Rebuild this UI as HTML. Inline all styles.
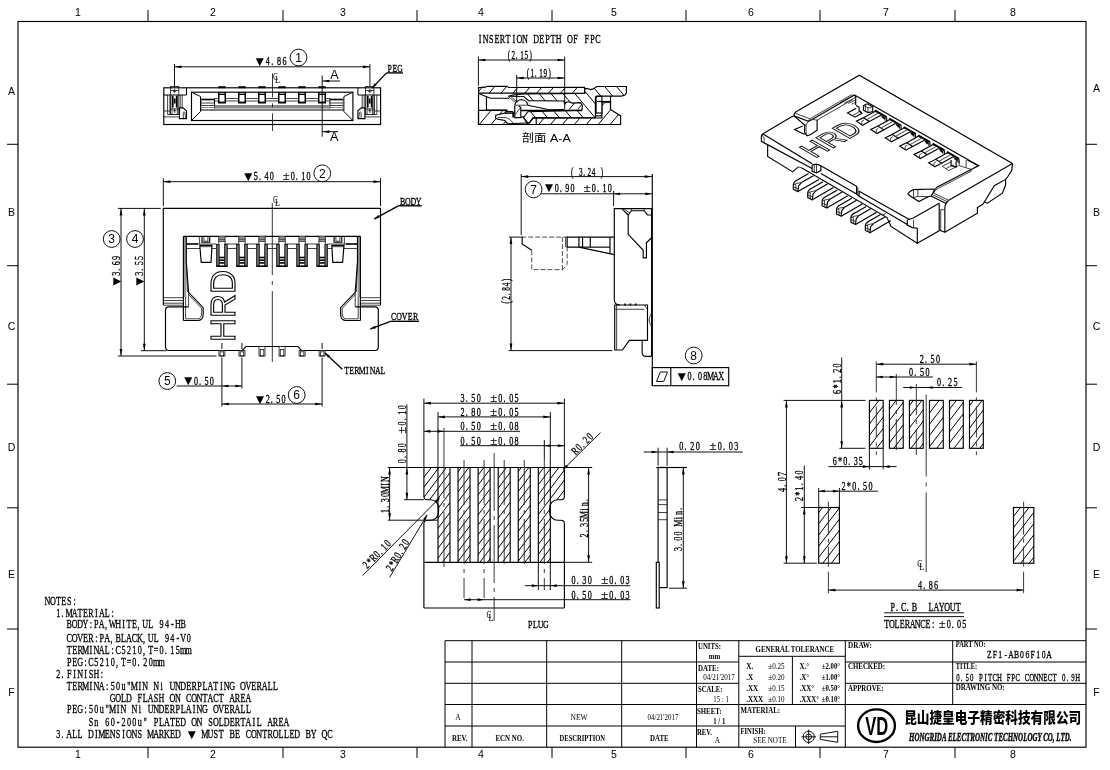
<!DOCTYPE html>
<html><head><meta charset="utf-8"><title>ZF1-AB06F10A</title>
<style>
html,body{margin:0;padding:0;background:#fff}
svg{display:block;filter:grayscale(1)}
line,polyline,polygon,path,rect,circle,ellipse{fill:none;stroke:#000;stroke-width:1}
.d{stroke:#111;stroke-width:1}
.o{stroke:#000;stroke-width:1.15}
.n{stroke:#111;stroke-width:.8}
.l{stroke:#000;stroke-width:1.35}
.k{stroke:#000;stroke-width:1.6}
.g{stroke:#777;stroke-width:.8}
.c{stroke:#222;stroke-width:.9;stroke-dasharray:60 5 4 5}
.h{stroke:#222;stroke-width:.8;stroke-dasharray:5 2}
.ar{fill:#000;stroke:none}
.w{fill:#fff}
.fk{fill:#000;stroke:none}
.fg{fill:#888;stroke:none}
text{fill:#000;stroke:none;white-space:pre}
.m{font-family:"Liberation Serif","Noto Serif CJK SC",serif;text-anchor:middle;stroke:#000;stroke-width:.32px}
.t{font-family:"Liberation Serif","Noto Serif CJK SC",serif}
.b{font-family:"Liberation Serif","Noto Serif CJK SC",serif;font-weight:bold}
.tri{font-family:"DejaVu Sans",sans-serif}
.s{font-family:"Liberation Sans","Noto Sans CJK SC",sans-serif}
</style></head><body>
<svg width="1110" height="770" viewBox="0 0 1110 770">
<g>
<rect x="0" y="0" width="1110" height="770" style="fill:#fff;stroke:none"/>
<g id="frame">
<rect x="18" y="21.5" width="1068" height="725.7" class="o"/>
<line x1="148" y1="10" x2="148" y2="21.5"/>
<line x1="148" y1="747.2" x2="148" y2="758"/>
<line x1="283" y1="10" x2="283" y2="21.5"/>
<line x1="283" y1="747.2" x2="283" y2="758"/>
<line x1="417" y1="10" x2="417" y2="21.5"/>
<line x1="417" y1="747.2" x2="417" y2="758"/>
<line x1="552" y1="10" x2="552" y2="21.5"/>
<line x1="552" y1="747.2" x2="552" y2="758"/>
<line x1="686" y1="10" x2="686" y2="21.5"/>
<line x1="686" y1="747.2" x2="686" y2="758"/>
<line x1="820" y1="10" x2="820" y2="21.5"/>
<line x1="820" y1="747.2" x2="820" y2="758"/>
<line x1="955" y1="10" x2="955" y2="21.5"/>
<line x1="955" y1="747.2" x2="955" y2="758"/>
<line x1="7" y1="144.3" x2="18" y2="144.3"/>
<line x1="1086" y1="144.3" x2="1097" y2="144.3"/>
<line x1="7" y1="265.7" x2="18" y2="265.7"/>
<line x1="1086" y1="265.7" x2="1097" y2="265.7"/>
<line x1="7" y1="384.2" x2="18" y2="384.2"/>
<line x1="1086" y1="384.2" x2="1097" y2="384.2"/>
<line x1="7" y1="507.8" x2="18" y2="507.8"/>
<line x1="1086" y1="507.8" x2="1097" y2="507.8"/>
<line x1="7" y1="629" x2="18" y2="629"/>
<line x1="1086" y1="629" x2="1097" y2="629"/>
<text class="s" x="78" y="15.5" font-size="10.5" text-anchor="middle">1</text>
<text class="s" x="78" y="757.5" font-size="10.5" text-anchor="middle">1</text>
<text class="s" x="213" y="15.5" font-size="10.5" text-anchor="middle">2</text>
<text class="s" x="213" y="757.5" font-size="10.5" text-anchor="middle">2</text>
<text class="s" x="343" y="15.5" font-size="10.5" text-anchor="middle">3</text>
<text class="s" x="343" y="757.5" font-size="10.5" text-anchor="middle">3</text>
<text class="s" x="481" y="15.5" font-size="10.5" text-anchor="middle">4</text>
<text class="s" x="481" y="757.5" font-size="10.5" text-anchor="middle">4</text>
<text class="s" x="614" y="15.5" font-size="10.5" text-anchor="middle">5</text>
<text class="s" x="614" y="757.5" font-size="10.5" text-anchor="middle">5</text>
<text class="s" x="751" y="15.5" font-size="10.5" text-anchor="middle">6</text>
<text class="s" x="751" y="757.5" font-size="10.5" text-anchor="middle">6</text>
<text class="s" x="886" y="15.5" font-size="10.5" text-anchor="middle">7</text>
<text class="s" x="886" y="757.5" font-size="10.5" text-anchor="middle">7</text>
<text class="s" x="1013" y="15.5" font-size="10.5" text-anchor="middle">8</text>
<text class="s" x="1013" y="757.5" font-size="10.5" text-anchor="middle">8</text>
<text class="s" x="11.5" y="94.7" font-size="10.5" text-anchor="middle">A</text>
<text class="s" x="1096.5" y="91.7" font-size="10.5" text-anchor="middle">A</text>
<text class="s" x="11.5" y="215.7" font-size="10.5" text-anchor="middle">B</text>
<text class="s" x="1096.5" y="215.7" font-size="10.5" text-anchor="middle">B</text>
<text class="s" x="11.5" y="329.7" font-size="10.5" text-anchor="middle">C</text>
<text class="s" x="1096.5" y="329.7" font-size="10.5" text-anchor="middle">C</text>
<text class="s" x="11.5" y="450.7" font-size="10.5" text-anchor="middle">D</text>
<text class="s" x="1096.5" y="450.7" font-size="10.5" text-anchor="middle">D</text>
<text class="s" x="11.5" y="577.7" font-size="10.5" text-anchor="middle">E</text>
<text class="s" x="1096.5" y="577.7" font-size="10.5" text-anchor="middle">E</text>
<text class="s" x="11.5" y="695.7" font-size="10.5" text-anchor="middle">F</text>
<text class="s" x="1096.5" y="695.7" font-size="10.5" text-anchor="middle">F</text>
</g>
<g id="titleblock">
<line x1="445" y1="640.7" x2="1086" y2="640.7"/>
<line x1="445" y1="640.7" x2="445" y2="747.2"/>
<line x1="472" y1="640.7" x2="472" y2="747.2"/>
<line x1="546.7" y1="640.7" x2="546.7" y2="747.2"/>
<line x1="621.7" y1="640.7" x2="621.7" y2="747.2"/>
<line x1="696.5" y1="640.7" x2="696.5" y2="747.2"/>
<line x1="738.8" y1="640.7" x2="738.8" y2="747.2"/>
<line x1="845.3" y1="640.7" x2="845.3" y2="747.2"/>
<line x1="952.7" y1="640.7" x2="952.7" y2="704.5"/>
<line x1="445" y1="662" x2="738.8" y2="662"/>
<line x1="445" y1="683.3" x2="738.8" y2="683.3"/>
<line x1="445" y1="704.5" x2="738.8" y2="704.5"/>
<line x1="445" y1="726" x2="738.8" y2="726"/>
<line x1="738.8" y1="656.3" x2="845.3" y2="656.3"/>
<line x1="792.4" y1="656.3" x2="792.4" y2="704.5"/>
<line x1="738.8" y1="704.5" x2="1086" y2="704.5"/>
<line x1="738.8" y1="726" x2="845.3" y2="726"/>
<line x1="795.5" y1="726" x2="795.5" y2="747.2"/>
<line x1="845.3" y1="662" x2="1086" y2="662"/>
<line x1="845.3" y1="683.3" x2="1086" y2="683.3"/>
<text class="t" x="458" y="719.5" font-size="7.5" text-anchor="middle">A</text>
<text class="t" x="579" y="719.5" font-size="7.5" textLength="17" lengthAdjust="spacingAndGlyphs" text-anchor="middle">NEW</text>
<text class="t" x="663" y="719.5" font-size="7.5" textLength="31" lengthAdjust="spacingAndGlyphs" text-anchor="middle">04/21'2017</text>
<text class="b" x="459.7" y="740.5" font-size="7.5" textLength="15.5" lengthAdjust="spacingAndGlyphs" text-anchor="middle">REV.</text>
<text class="b" x="509.7" y="740.5" font-size="7.5" textLength="28.5" lengthAdjust="spacingAndGlyphs" text-anchor="middle">ECN NO.</text>
<text class="b" x="582.3" y="740.5" font-size="7.5" textLength="45.5" lengthAdjust="spacingAndGlyphs" text-anchor="middle">DESCRIPTION</text>
<text class="b" x="659.3" y="740.5" font-size="7.5" textLength="18.5" lengthAdjust="spacingAndGlyphs" text-anchor="middle">DATE</text>
<text class="b" x="698" y="649" font-size="7.5" textLength="23" lengthAdjust="spacingAndGlyphs">UNITS:</text>
<text class="b" x="708.7" y="658.8" font-size="7.5" textLength="11.5" lengthAdjust="spacingAndGlyphs">mm</text>
<text class="b" x="698" y="670.5" font-size="7.5" textLength="21" lengthAdjust="spacingAndGlyphs">DATE:</text>
<text class="t" x="703.3" y="679.8" font-size="7.5" textLength="31.5" lengthAdjust="spacingAndGlyphs">04/21'2017</text>
<text class="b" x="698" y="691.8" font-size="7.5" textLength="24.5" lengthAdjust="spacingAndGlyphs">SCALE:</text>
<text class="t" x="713.3" y="701.5" font-size="7.5" textLength="15.5" lengthAdjust="spacingAndGlyphs">15 : 1</text>
<text class="b" x="697" y="713.8" font-size="7.5" textLength="24.5" lengthAdjust="spacingAndGlyphs">SHEET:</text>
<text class="b" x="713.3" y="723.5" font-size="7.5" textLength="12" lengthAdjust="spacingAndGlyphs">1 / 1</text>
<text class="b" x="697" y="734.8" font-size="7.5" textLength="15" lengthAdjust="spacingAndGlyphs">REV.</text>
<text class="t" x="714.7" y="742.8" font-size="7.5">A</text>
<text class="b" x="794.8" y="652" font-size="7.5" textLength="78.5" lengthAdjust="spacingAndGlyphs" text-anchor="middle">GENERAL TOLERANCE</text>
<text class="b" x="746.2" y="668.5" font-size="7.5" textLength="7" lengthAdjust="spacingAndGlyphs">X.</text>
<text class="t" x="768.3" y="668.5" font-size="7.5" textLength="16.2" lengthAdjust="spacingAndGlyphs">±0.25</text>
<text class="b" x="799.5" y="668.5" font-size="7.5" textLength="9.5" lengthAdjust="spacingAndGlyphs">X.°</text>
<text class="b" x="821.7" y="668.5" font-size="7.5" textLength="18.3" lengthAdjust="spacingAndGlyphs">±2.00°</text>
<text class="b" x="746.2" y="679.7" font-size="7.5" textLength="7" lengthAdjust="spacingAndGlyphs">.X</text>
<text class="t" x="768.3" y="679.7" font-size="7.5" textLength="16.2" lengthAdjust="spacingAndGlyphs">±0.20</text>
<text class="b" x="799.5" y="679.7" font-size="7.5" textLength="9.5" lengthAdjust="spacingAndGlyphs">.X°</text>
<text class="b" x="821.7" y="679.7" font-size="7.5" textLength="18.3" lengthAdjust="spacingAndGlyphs">±1.00°</text>
<text class="b" x="746.2" y="690.7" font-size="7.5" textLength="12" lengthAdjust="spacingAndGlyphs">.XX</text>
<text class="t" x="768.3" y="690.7" font-size="7.5" textLength="16.2" lengthAdjust="spacingAndGlyphs">±0.15</text>
<text class="b" x="799.5" y="690.7" font-size="7.5" textLength="14.5" lengthAdjust="spacingAndGlyphs">.XX°</text>
<text class="b" x="821.7" y="690.7" font-size="7.5" textLength="18.3" lengthAdjust="spacingAndGlyphs">±0.50°</text>
<text class="b" x="746.2" y="701.5" font-size="7.5" textLength="17" lengthAdjust="spacingAndGlyphs">.XXX</text>
<text class="t" x="768.3" y="701.5" font-size="7.5" textLength="16.2" lengthAdjust="spacingAndGlyphs">±0.10</text>
<text class="b" x="799.5" y="701.5" font-size="7.5" textLength="19.5" lengthAdjust="spacingAndGlyphs">.XXX°</text>
<text class="b" x="821.7" y="701.5" font-size="7.5" textLength="18.3" lengthAdjust="spacingAndGlyphs">±0.10°</text>
<text class="b" x="740.5" y="712.7" font-size="7.5" textLength="39.5" lengthAdjust="spacingAndGlyphs">MATERIAL:</text>
<text class="b" x="740.5" y="733.8" font-size="7.5" textLength="25" lengthAdjust="spacingAndGlyphs">FINISH:</text>
<text class="t" x="753.3" y="742.8" font-size="7.5" textLength="33.4" lengthAdjust="spacingAndGlyphs">SEE NOTE</text>
<circle cx="808.7" cy="736.8" r="5.6" class="d"/>
<circle cx="808.7" cy="736.8" r="2.9" class="d"/>
<line x1="801.5" y1="736.8" x2="816" y2="736.8" class="d"/>
<line x1="808.7" y1="729.5" x2="808.7" y2="744" class="d"/>
<polygon points="820.3,734.2 837.7,731.3 837.7,742.3 820.3,739.4" class="d"/>
<line x1="820.3" y1="736.8" x2="837.7" y2="736.8" class="d"/>
<text class="b" x="848" y="647.8" font-size="7.5" textLength="24" lengthAdjust="spacingAndGlyphs">DRAW:</text>
<text class="b" x="848" y="669.3" font-size="7.5" textLength="37" lengthAdjust="spacingAndGlyphs">CHECKED:</text>
<text class="b" x="848" y="690.7" font-size="7.5" textLength="35.5" lengthAdjust="spacingAndGlyphs">APPROVE:</text>
<text class="b" x="955.7" y="646.8" font-size="7.5" textLength="30" lengthAdjust="spacingAndGlyphs">PART NO:</text>
<g><text class="m" transform="translate(986.7,657.8) scale(0.7,1)" font-size="11" x="3.87 11.61 19.36 27.1 34.84 42.59 50.33 58.07 65.81 73.56 81.3 89.04" y="0.6">ZF1-AB06F10A</text></g>
<text class="b" x="955.7" y="669" font-size="7.5" textLength="21.5" lengthAdjust="spacingAndGlyphs">TITLE:</text>
<g><text class="m" transform="translate(955.7,680) scale(0.62,1)" font-size="11" x="3.71 9.5 18.55 25.97 33.39 40.81 48.23 55.65 63.06 70.48 77.9 85.32 92.74 100.16 107.58 115 122.42 129.84 137.26 144.68 152.1 159.52 166.94 174.35 180.14 189.19 196.61" y="0.6">0.50 PITCH FPC CONNECT 0.9H</text></g>
<text class="b" x="955.7" y="690" font-size="7.5" textLength="49" lengthAdjust="spacingAndGlyphs">DRAWING NO:</text>
<ellipse cx="876.5" cy="725.7" rx="18.4" ry="16.3" style="stroke-width:2.4"/>
<text class="s" x="865.3" y="735.3" font-size="26" textLength="23" lengthAdjust="spacingAndGlyphs" style="font-weight:bold">VD</text>
<text class="s" x="904.2" y="722.8" font-size="14.6" textLength="177" lengthAdjust="spacingAndGlyphs" style="font-weight:900">昆山捷皇电子精密科技有限公司</text>
<text class="b" x="909" y="740.8" font-size="13" textLength="162.5" lengthAdjust="spacingAndGlyphs" style="font-style:italic;stroke:#000;stroke-width:.45px">HONGRIDA ELECTRONIC TECHNOLOGY CO, LTD.</text>
</g>
<g id="notes">
<g><text class="m" transform="translate(44.8,605) scale(0.7,1)" font-size="11.6" x="3.88 11.64 19.39 27.15 34.91 42.66" y="0">NOTES:</text></g>
<g><text class="m" transform="translate(55.66,617) scale(0.7,1)" font-size="11.6" x="3.88 9.93 19.39 27.15 34.91 42.66 50.42 58.18 65.94 73.69 81.45" y="0">1.MATERIAL:</text></g>
<g><text class="m" transform="translate(66.52,628.3) scale(0.7,1)" font-size="11.6" x="3.88 11.64 19.39 27.15 34.91 42.66 50.42 56.47 65.94 73.69 81.45 89.21 96.96 103.01 112.48 120.24 127.99 135.75 143.51 151.26 159.02 166.78" y="0">BODY:PA,WHITE,UL 94-HB</text></g>
<g><text class="m" transform="translate(66.52,642.3) scale(0.7,1)" font-size="11.6" x="3.88 11.64 19.39 27.15 34.91 42.66 50.42 58.18 64.23 73.69 81.45 89.21 96.96 104.72 110.77 120.24 127.99 135.75 143.51 151.26 159.02 166.78 174.54" y="0">COVER:PA,BLACK,UL 94-V0</text></g>
<g><text class="m" transform="translate(66.52,654.3) scale(0.7,1)" font-size="11.6" x="3.88 11.64 19.39 27.15 34.91 42.66 50.42 58.18 65.94 73.69 81.45 89.21 96.96 104.72 110.77 120.24 127.99 135.75 141.8 151.26 159.02 166.78 174.54" y="0">TERMINAL:C5210,T=0.15mm</text></g>
<g><text class="m" transform="translate(66.52,666) scale(0.7,1)" font-size="11.6" x="3.88 11.64 19.39 27.15 34.91 42.66 50.42 58.18 65.94 71.99 81.45 89.21 96.96 103.01 112.48 120.24 127.99 135.75" y="0">PEG:C5210,T=0.20mm</text></g>
<g><text class="m" transform="translate(55.66,678.3) scale(0.7,1)" font-size="11.6" x="3.88 9.93 19.39 27.15 34.91 42.66 50.42 58.18 65.94" y="0">2.FINISH:</text></g>
<g><text class="m" transform="translate(66.52,690.3) scale(0.7,1)" font-size="11.6" x="3.88 11.64 19.39 27.15 34.91 42.66 50.42 58.18 65.94 73.69 81.45 89.21 96.96 104.72 112.48 120.24 127.99 135.75 143.51 151.26 159.02 166.78 174.54 182.29 190.05 197.81 205.56 213.32 221.08 228.84 236.59 244.35 252.11 259.86 267.62 275.38 283.14 290.89 298.65" y="0">TERMINA:50u"MIN Ni UNDERPLATING OVERALL</text></g>
<g><text class="m" transform="translate(109.96,702) scale(0.7,1)" font-size="11.6" x="3.88 11.64 19.39 27.15 34.91 42.66 50.42 58.18 65.94 73.69 81.45 89.21 96.96 104.72 112.48 120.24 127.99 135.75 143.51 151.26 159.02 166.78 174.54 182.29 190.05 197.81" y="0">GOLD FLASH ON CONTACT AREA</text></g>
<g><text class="m" transform="translate(66.52,713.3) scale(0.7,1)" font-size="11.6" x="3.88 11.64 19.39 27.15 34.91 42.66 50.42 58.18 65.94 73.69 81.45 89.21 96.96 104.72 112.48 120.24 127.99 135.75 143.51 151.26 159.02 166.78 174.54 182.29 190.05 197.81 205.56 213.32 221.08 228.84 236.59 244.35 252.11 259.86" y="0">PEG:50u"MIN Ni UNDERPLAING OVERALL</text></g>
<g><text class="m" transform="translate(88.24,726) scale(0.7,1)" font-size="11.6" x="3.88 11.64 19.39 27.15 34.91 42.66 50.42 58.18 65.94 73.69 81.45 89.21 96.96 104.72 112.48 120.24 127.99 135.75 143.51 151.26 159.02 166.78 174.54 182.29 190.05 197.81 205.56 213.32 221.08 228.84 236.59 244.35 252.11 259.86 267.62 275.38 283.14" y="0">Sn 60-200u" PLATED ON SOLDERTAIL AREA</text></g>
<g><text class="m" transform="translate(55.66,738) scale(0.7,1)" font-size="11.6" x="3.88 9.93 19.39 27.15 34.91 42.66 50.42 58.18 65.94 73.69 81.45 89.21 96.96 104.72 112.48 120.24 127.99 135.75 143.51 151.26 159.02 166.78 174.54 182.29" y="0">3.ALL DIMENSIONS MARKED </text><text class="tri" transform="translate(55.66,738)" font-size="10.44" x="136.05" y="-0.3" text-anchor="middle">▼</text> <text class="m" transform="translate(55.66,738) scale(0.7,1)" font-size="11.6" x="213.32 221.08 228.84 236.59 244.35 252.11 259.86 267.62 275.38 283.14 290.89 298.65 306.41 314.16 321.92 329.68 337.44 345.19 352.95 360.71 368.46 376.22 383.98 391.74" y="0">MUST BE CONTROLLED BY QC</text></g>
</g>
<g id="front">
<rect x="163.8" y="87.8" width="216.8" height="36.7" class="o"/>
<rect x="191.5" y="92.2" width="161.4" height="28.3" class="o"/>
<line x1="186.5" y1="87.8" x2="186.5" y2="95"/>
<line x1="163.8" y1="95" x2="186.5" y2="95"/>
<rect x="170.5" y="86.5" width="8.3" height="28" class="n"/>
<line x1="167.6" y1="95" x2="167.6" y2="114.5" class="n"/>
<line x1="169.9" y1="95" x2="169.9" y2="114.5" class="n"/>
<line x1="172" y1="95" x2="172" y2="114.5" class="n"/>
<line x1="177.3" y1="95" x2="177.3" y2="114.5" class="n"/>
<line x1="180.2" y1="95" x2="180.2" y2="111" class="n"/>
<line x1="182.2" y1="95" x2="182.2" y2="111" class="n"/>
<line x1="163.8" y1="111" x2="170.5" y2="111" class="n"/>
<line x1="167.6" y1="114.5" x2="179.5" y2="114.5" class="n"/>
<line x1="163.8" y1="116.9" x2="179.5" y2="116.9" class="n"/>
<line x1="170.5" y1="90.5" x2="178.8" y2="90.5" class="n"/>
<line x1="170.5" y1="109" x2="178.8" y2="109" class="n"/>
<line x1="174.6" y1="89" x2="174.6" y2="93" class="n"/>
<line x1="173" y1="91.3" x2="176.2" y2="91.3" class="n"/>
<line x1="174.6" y1="108" x2="174.6" y2="113" class="n"/>
<line x1="173" y1="110.7" x2="176.2" y2="110.7" class="n"/>
<line x1="174.7" y1="98.5" x2="174.7" y2="103.5" class="k"/>
<line x1="172.8" y1="96" x2="172.8" y2="107.5" class="k"/>
<line x1="176.6" y1="96" x2="176.6" y2="107.5" class="k"/>
<polygon points="179.5,107.9 183,107.9 186.5,110.8 186.5,118.6 179.5,118.6" class="o" style="fill:#fff"/>
<path d="M183.3,118 V112.5 Q184.8,109.5 185.6,118" class="n"/>
<line x1="191.5" y1="92.2" x2="200.5" y2="96.5"/>
<line x1="191.5" y1="120.5" x2="200.5" y2="111.5"/>
<line x1="200.5" y1="96.5" x2="200.5" y2="111.5"/>
<rect x="200.5" y="98.7" width="14" height="1.6" class="fk"/>
<line x1="200.5" y1="103" x2="214.5" y2="103" class="n"/>
<line x1="200.5" y1="105.5" x2="214.5" y2="105.5" class="n"/>
<line x1="200.5" y1="107.5" x2="214.5" y2="107.5" class="g"/>
<line x1="201.5" y1="98" x2="201.5" y2="110" class="g"/>
<line x1="214.5" y1="98.5" x2="214.5" y2="108.5"/>
<line x1="357.9" y1="87.8" x2="357.9" y2="95"/>
<line x1="380.6" y1="95" x2="357.9" y2="95"/>
<rect x="365.6" y="86.5" width="8.3" height="28" class="n"/>
<line x1="376.8" y1="95" x2="376.8" y2="114.5" class="n"/>
<line x1="374.5" y1="95" x2="374.5" y2="114.5" class="n"/>
<line x1="372.4" y1="95" x2="372.4" y2="114.5" class="n"/>
<line x1="367.1" y1="95" x2="367.1" y2="114.5" class="n"/>
<line x1="364.2" y1="95" x2="364.2" y2="111" class="n"/>
<line x1="362.2" y1="95" x2="362.2" y2="111" class="n"/>
<line x1="380.6" y1="111" x2="373.9" y2="111" class="n"/>
<line x1="376.8" y1="114.5" x2="364.9" y2="114.5" class="n"/>
<line x1="380.6" y1="116.9" x2="364.9" y2="116.9" class="n"/>
<line x1="373.9" y1="90.5" x2="365.6" y2="90.5" class="n"/>
<line x1="373.9" y1="109" x2="365.6" y2="109" class="n"/>
<line x1="369.8" y1="89" x2="369.8" y2="93" class="n"/>
<line x1="371.4" y1="91.3" x2="368.2" y2="91.3" class="n"/>
<line x1="369.8" y1="108" x2="369.8" y2="113" class="n"/>
<line x1="371.4" y1="110.7" x2="368.2" y2="110.7" class="n"/>
<line x1="369.7" y1="98.5" x2="369.7" y2="103.5" class="k"/>
<line x1="371.6" y1="96" x2="371.6" y2="107.5" class="k"/>
<line x1="367.8" y1="96" x2="367.8" y2="107.5" class="k"/>
<polygon points="364.9,107.9 361.4,107.9 357.9,110.8 357.9,118.6 364.9,118.6" class="o" style="fill:#fff"/>
<path d="M361.1,118 V112.5 Q359.6,109.5 358.8,118" class="n"/>
<line x1="352.9" y1="92.2" x2="343.9" y2="96.5"/>
<line x1="352.9" y1="120.5" x2="343.9" y2="111.5"/>
<line x1="343.9" y1="96.5" x2="343.9" y2="111.5"/>
<rect x="329.9" y="98.7" width="14" height="1.6" class="fk"/>
<line x1="343.9" y1="103" x2="329.9" y2="103" class="n"/>
<line x1="343.9" y1="105.5" x2="329.9" y2="105.5" class="n"/>
<line x1="343.9" y1="107.5" x2="329.9" y2="107.5" class="g"/>
<line x1="342.9" y1="98" x2="342.9" y2="110" class="g"/>
<line x1="329.9" y1="98.5" x2="329.9" y2="108.5"/>
<line x1="214.5" y1="98.5" x2="329.9" y2="98.5" class="n"/>
<line x1="214.5" y1="101" x2="329.9" y2="101" class="n"/>
<rect x="214.5" y="105" width="115.4" height="3.5" class="fg"/>
<line x1="200.5" y1="110" x2="343.9" y2="110"/>
<rect x="218" y="92.2" width="8" height="11.3" style="fill:#000;stroke:none"/>
<rect x="219.5" y="95" width="5" height="6.6" style="fill:#fff;stroke:none"/>
<line x1="219.5" y1="93.4" x2="224.5" y2="93.4" style="stroke:#fff;stroke-width:.7"/>
<rect x="218.4" y="86.2" width="7.2" height="2" style="fill:#000;stroke:none"/>
<rect x="238" y="92.2" width="8" height="11.3" style="fill:#000;stroke:none"/>
<rect x="239.5" y="95" width="5" height="6.6" style="fill:#fff;stroke:none"/>
<line x1="239.5" y1="93.4" x2="244.5" y2="93.4" style="stroke:#fff;stroke-width:.7"/>
<rect x="238.4" y="86.2" width="7.2" height="2" style="fill:#000;stroke:none"/>
<rect x="258" y="92.2" width="8" height="11.3" style="fill:#000;stroke:none"/>
<rect x="259.5" y="95" width="5" height="6.6" style="fill:#fff;stroke:none"/>
<line x1="259.5" y1="93.4" x2="264.5" y2="93.4" style="stroke:#fff;stroke-width:.7"/>
<rect x="258.4" y="86.2" width="7.2" height="2" style="fill:#000;stroke:none"/>
<rect x="278" y="92.2" width="8" height="11.3" style="fill:#000;stroke:none"/>
<rect x="279.5" y="95" width="5" height="6.6" style="fill:#fff;stroke:none"/>
<line x1="279.5" y1="93.4" x2="284.5" y2="93.4" style="stroke:#fff;stroke-width:.7"/>
<rect x="278.4" y="86.2" width="7.2" height="2" style="fill:#000;stroke:none"/>
<rect x="298" y="92.2" width="8" height="11.3" style="fill:#000;stroke:none"/>
<rect x="299.5" y="95" width="5" height="6.6" style="fill:#fff;stroke:none"/>
<line x1="299.5" y1="93.4" x2="304.5" y2="93.4" style="stroke:#fff;stroke-width:.7"/>
<rect x="298.4" y="86.2" width="7.2" height="2" style="fill:#000;stroke:none"/>
<rect x="318" y="92.2" width="8" height="11.3" style="fill:#000;stroke:none"/>
<rect x="319.5" y="95" width="5" height="6.6" style="fill:#fff;stroke:none"/>
<line x1="319.5" y1="93.4" x2="324.5" y2="93.4" style="stroke:#fff;stroke-width:.7"/>
<rect x="318.4" y="86.2" width="7.2" height="2" style="fill:#000;stroke:none"/>
<line x1="272.5" y1="73.3" x2="272.5" y2="131" class="c" style="stroke-dasharray:24 6 4 6"/>
<line x1="322.2" y1="75.5" x2="322.2" y2="136.7" class="d"/>
<line x1="322.2" y1="81" x2="340" y2="81" class="d"/>
<polygon class="ar" points="322.8,81 329.3,79.65 329.3,82.35"/>
<line x1="322.2" y1="131.7" x2="338" y2="131.7" class="d"/>
<polygon class="ar" points="322.8,131.7 329.3,130.35 329.3,133.05"/>
<text class="s" x="334.4" y="79.2" font-size="12.6" text-anchor="middle" fill="#333">A</text>
<text class="s" x="334.2" y="140.6" font-size="12.6" text-anchor="middle" fill="#333">A</text>
<line x1="174.5" y1="64" x2="174.5" y2="86.5" class="d"/>
<line x1="369.9" y1="64" x2="369.9" y2="86.5" class="d"/>
<line x1="174.5" y1="66.8" x2="369.9" y2="66.8" class="d"/>
<polygon class="ar" points="174.5,66.8 181.5,65.45 181.5,68.15"/>
<polygon class="ar" points="369.9,66.8 362.9,68.15 362.9,65.45"/>
<g><text class="tri" transform="translate(253.8,64.5)" font-size="10.44" x="5.9" y="0.3" text-anchor="middle">▼</text><text class="m" transform="translate(253.8,64.5) scale(0.7,1)" font-size="11.6" x="20 26.24 36 44" y="0.6">4.86</text></g>
<circle cx="298.5" cy="57.5" r="8.4" class="d"/>
<text class="s" x="298.5" y="61.7" font-size="12" text-anchor="middle">1</text>
<text class="t" x="273" y="80.4" font-size="11" textLength="5" lengthAdjust="spacingAndGlyphs">C</text>
<text class="t" x="274.9" y="83.4" font-size="11" textLength="5" lengthAdjust="spacingAndGlyphs">L</text>
<g><text class="m" transform="translate(387,71) scale(0.7,1)" font-size="11" x="3.71 11.14 18.57" y="0.6">PEG</text></g>
<line x1="386.5" y1="72.9" x2="403" y2="72.9" class="l"/>
<line x1="386.5" y1="72.9" x2="372.5" y2="87.6" class="l"/>
<polygon class="ar" points="371.6,88.5 374.8,83.25 376.74,85.12"/>
</g>
<g id="section">
<clipPath id="h1"><polygon points="478.52,87.62 485.37,87.19 487.53,86.32 506.99,86.32 508.79,87.48 584.6,87.4 584.6,93.2 478.52,93.17"/></clipPath>
<g clip-path="url(#h1)" class="n">
<line x1="436.92" y1="127" x2="473" y2="84"/>
<line x1="448.82" y1="127" x2="484.9" y2="84"/>
<line x1="460.72" y1="127" x2="496.8" y2="84"/>
<line x1="472.62" y1="127" x2="508.7" y2="84"/>
<line x1="484.52" y1="127" x2="520.6" y2="84"/>
<line x1="496.42" y1="127" x2="532.5" y2="84"/>
<line x1="508.32" y1="127" x2="544.4" y2="84"/>
<line x1="520.22" y1="127" x2="556.3" y2="84"/>
<line x1="532.12" y1="127" x2="568.2" y2="84"/>
<line x1="544.02" y1="127" x2="580.1" y2="84"/>
<line x1="555.92" y1="127" x2="592" y2="84"/>
<line x1="567.82" y1="127" x2="603.9" y2="84"/>
<line x1="579.72" y1="127" x2="615.8" y2="84"/>
<line x1="591.62" y1="127" x2="627.7" y2="84"/>
<line x1="603.52" y1="127" x2="639.6" y2="84"/>
<line x1="615.42" y1="127" x2="651.5" y2="84"/>
<line x1="627.32" y1="127" x2="663.4" y2="84"/>
<line x1="639.22" y1="127" x2="675.3" y2="84"/>
<line x1="651.12" y1="127" x2="687.2" y2="84"/>
<line x1="663.02" y1="127" x2="699.1" y2="84"/>
<line x1="674.92" y1="127" x2="711" y2="84"/>
</g>
<polygon points="478.52,87.62 485.37,87.19 487.53,86.32 506.99,86.32 508.79,87.48 584.6,87.4 584.6,93.2 478.52,93.17" class="o"/>
<polyline points="478.52,93.17 478.52,124.52" class="o"/>
<polyline points="478.52,93.53 490.41,98.22 509.15,98.22" class="o"/>
<polyline points="486.45,96.77 486.45,110.11 506.99,110.11" class="o"/>
<clipPath id="h2"><polygon points="478.5,110.4 507,110.4 504.83,112.99 495.82,115.15 495.46,118.04 497.62,119.12 504.83,120.56 507.71,123.8 526.89,123.03 529.32,123.03 532.97,117.84 601.9,118 601.9,102.2 610.5,102.2 610.5,109.4 620.6,115.9 620.6,124.5 478.5,124.5"/></clipPath>
<g clip-path="url(#h2)" class="n">
<line x1="441.42" y1="127" x2="477.5" y2="84"/>
<line x1="453.32" y1="127" x2="489.4" y2="84"/>
<line x1="465.22" y1="127" x2="501.3" y2="84"/>
<line x1="477.12" y1="127" x2="513.2" y2="84"/>
<line x1="489.02" y1="127" x2="525.1" y2="84"/>
<line x1="500.92" y1="127" x2="537" y2="84"/>
<line x1="512.82" y1="127" x2="548.9" y2="84"/>
<line x1="524.72" y1="127" x2="560.8" y2="84"/>
<line x1="536.62" y1="127" x2="572.7" y2="84"/>
<line x1="548.52" y1="127" x2="584.6" y2="84"/>
<line x1="560.42" y1="127" x2="596.5" y2="84"/>
<line x1="572.32" y1="127" x2="608.4" y2="84"/>
<line x1="584.22" y1="127" x2="620.3" y2="84"/>
<line x1="596.12" y1="127" x2="632.2" y2="84"/>
<line x1="608.02" y1="127" x2="644.1" y2="84"/>
<line x1="619.92" y1="127" x2="656" y2="84"/>
<line x1="631.82" y1="127" x2="667.9" y2="84"/>
<line x1="643.72" y1="127" x2="679.8" y2="84"/>
<line x1="655.62" y1="127" x2="691.7" y2="84"/>
<line x1="667.52" y1="127" x2="703.6" y2="84"/>
</g>
<polygon points="478.5,110.4 507,110.4 504.83,112.99 495.82,115.15 495.46,118.04 497.62,119.12 504.83,120.56 507.71,123.8 526.89,123.03 529.32,123.03 532.97,117.84 601.9,118 601.9,102.2 610.5,102.2 610.5,109.4 620.6,115.9 620.6,124.5 478.5,124.5" class="o"/>
<line x1="536.22" y1="117.8" x2="536.22" y2="124.5" class="o"/>
<clipPath id="h3"><polygon points="508.2,96.3 514,94.9 524,93.9 584.6,93.5 584.59,88.63 587.48,88.49 590.36,89.57 593.24,88.92 596.85,86.47 626.4,86.47 626.4,92.81 624.95,94.97 621.35,96.05 596.85,96.05 595.41,97.28 595.41,115.87 595.4,117.7 532.97,117.84 529.32,123.03 526.89,123.03 523.49,117.84 524.14,116.78 527.87,111.76 582,110.1 582.43,105.43 580.41,102.59 572.3,103.08 569.06,101.78 564.19,102.76 564.19,100.97 528.51,100.57 523.65,96.51"/></clipPath>
<g clip-path="url(#h3)" class="n">
<line x1="435.92" y1="84" x2="472" y2="127"/>
<line x1="447.82" y1="84" x2="483.9" y2="127"/>
<line x1="459.72" y1="84" x2="495.8" y2="127"/>
<line x1="471.62" y1="84" x2="507.7" y2="127"/>
<line x1="483.52" y1="84" x2="519.6" y2="127"/>
<line x1="495.42" y1="84" x2="531.5" y2="127"/>
<line x1="507.32" y1="84" x2="543.4" y2="127"/>
<line x1="519.22" y1="84" x2="555.3" y2="127"/>
<line x1="531.12" y1="84" x2="567.2" y2="127"/>
<line x1="543.02" y1="84" x2="579.1" y2="127"/>
<line x1="554.92" y1="84" x2="591" y2="127"/>
<line x1="566.82" y1="84" x2="602.9" y2="127"/>
<line x1="578.72" y1="84" x2="614.8" y2="127"/>
<line x1="590.62" y1="84" x2="626.7" y2="127"/>
<line x1="602.52" y1="84" x2="638.6" y2="127"/>
<line x1="614.42" y1="84" x2="650.5" y2="127"/>
<line x1="626.32" y1="84" x2="662.4" y2="127"/>
<line x1="638.22" y1="84" x2="674.3" y2="127"/>
<line x1="650.12" y1="84" x2="686.2" y2="127"/>
<line x1="662.02" y1="84" x2="698.1" y2="127"/>
<line x1="673.92" y1="84" x2="710" y2="127"/>
</g>
<polygon points="508.2,96.3 514,94.9 524,93.9 584.6,93.5 584.59,88.63 587.48,88.49 590.36,89.57 593.24,88.92 596.85,86.47 626.4,86.47 626.4,92.81 624.95,94.97 621.35,96.05 596.85,96.05 595.41,97.28 595.41,115.87 595.4,117.7 532.97,117.84 529.32,123.03 526.89,123.03 523.49,117.84 524.14,116.78 527.87,111.76 582,110.1 582.43,105.43 580.41,102.59 572.3,103.08 569.06,101.78 564.19,102.76 564.19,100.97 528.51,100.57 523.65,96.51" class="o"/>
<polygon points="508.65,96.76 510.68,96.43 515.95,100.97 514.08,101.46" class="n" style="fill:#fff"/>
<path d="M514.73,105.19 Q515.38,100.97 521.22,99.51 Q527.05,100.16 527.87,105.19" class="o" style="fill:#fff"/>
<polyline points="514.73,105.19 527.87,105.19" class="n"/>
<circle cx="516.84" cy="101.78" r="0.7" style="fill:#000;stroke:none"/>
<polyline points="514.73,105.43 514.73,117.6 520.81,117.6 520.81,107.46 518.78,106" class="o"/>
<line x1="514.89" y1="114.76" x2="520.41" y2="107.87" class="n"/>
<polyline points="520.81,117.19 524.14,116.78" class="o"/>
<line x1="513.11" y1="111.51" x2="513.11" y2="117.6" class="k"/>
<polyline points="505,111.51 512.7,111.51" class="o"/>
<polyline points="505,113.3 511.89,113.3" class="n"/>
<polyline points="527.87,105.19 547.16,109.24 564.19,109.49" class="o"/>
<line x1="521.22" y1="110.46" x2="582" y2="110.46" class="k"/>
<clipPath id="h4"><polygon points="564.19,102.76 569.06,101.78 572.3,103.08 580.41,102.59 582.43,105.43 581.22,108.68 573.11,108.92 564.19,109.49"/></clipPath>
<g clip-path="url(#h4)" class="n">
<line x1="435.42" y1="127" x2="471.5" y2="84"/>
<line x1="443.92" y1="127" x2="480" y2="84"/>
<line x1="452.42" y1="127" x2="488.5" y2="84"/>
<line x1="460.92" y1="127" x2="497" y2="84"/>
<line x1="469.42" y1="127" x2="505.5" y2="84"/>
<line x1="477.92" y1="127" x2="514" y2="84"/>
<line x1="486.42" y1="127" x2="522.5" y2="84"/>
<line x1="494.92" y1="127" x2="531" y2="84"/>
<line x1="503.42" y1="127" x2="539.5" y2="84"/>
<line x1="511.92" y1="127" x2="548" y2="84"/>
<line x1="520.42" y1="127" x2="556.5" y2="84"/>
<line x1="528.92" y1="127" x2="565" y2="84"/>
<line x1="537.42" y1="127" x2="573.5" y2="84"/>
<line x1="545.92" y1="127" x2="582" y2="84"/>
<line x1="554.42" y1="127" x2="590.5" y2="84"/>
<line x1="562.92" y1="127" x2="599" y2="84"/>
<line x1="571.42" y1="127" x2="607.5" y2="84"/>
<line x1="579.92" y1="127" x2="616" y2="84"/>
<line x1="588.42" y1="127" x2="624.5" y2="84"/>
<line x1="596.92" y1="127" x2="633" y2="84"/>
<line x1="605.42" y1="127" x2="641.5" y2="84"/>
<line x1="613.92" y1="127" x2="650" y2="84"/>
<line x1="622.42" y1="127" x2="658.5" y2="84"/>
<line x1="630.92" y1="127" x2="667" y2="84"/>
<line x1="639.42" y1="127" x2="675.5" y2="84"/>
<line x1="647.92" y1="127" x2="684" y2="84"/>
<line x1="656.42" y1="127" x2="692.5" y2="84"/>
<line x1="664.92" y1="127" x2="701" y2="84"/>
<line x1="673.42" y1="127" x2="709.5" y2="84"/>
</g>
<line x1="564.7" y1="93.5" x2="564.7" y2="109.49" class="d"/>
<polyline points="497.62,117.32 506.27,117.68 509.87,119.48 513.48,123.44" class="n"/>
<polyline points="504.83,112.99 513.48,112.99" class="o"/>
<rect x="596.1" y="96.4" width="5.8" height="16.6" class="o" style="fill:#fff"/>
<polyline points="596.8,101.5 610.5,101.5" class="o"/>
<line x1="610.5" y1="96" x2="610.5" y2="109.4" class="o"/>
<polyline points="595.41,115.87 601.89,115.87" class="o"/>
<line x1="478.4" y1="56.5" x2="478.4" y2="85.5" class="d"/>
<line x1="564.7" y1="56.5" x2="564.7" y2="93" class="d"/>
<line x1="516.7" y1="75" x2="516.7" y2="101.38" class="d"/>
<line x1="478.4" y1="60" x2="564.7" y2="60" class="d"/>
<polygon class="ar" points="478.4,60 485.4,58.65 485.4,61.35"/>
<polygon class="ar" points="564.7,60 557.7,61.35 557.7,58.65"/>
<line x1="516.7" y1="78" x2="564.7" y2="78" class="d"/>
<polygon class="ar" points="516.7,78 523.7,76.65 523.7,79.35"/>
<polygon class="ar" points="564.7,78 557.7,79.35 557.7,76.65"/>
<g><text class="m" transform="translate(506.7,58.8) scale(0.62,1)" font-size="11.6" x="3.51 10.52 16 24.56 31.57 38.59" y="0.6">(2.15)</text></g>
<g><text class="m" transform="translate(525.8,76.7) scale(0.62,1)" font-size="11.6" x="3.51 10.52 16 24.56 31.57 38.59" y="0.6">(1.19)</text></g>
<g><text class="m" transform="translate(477.2,42.5) scale(0.7,1)" font-size="11.6" x="4.01 12.04 20.07 28.1 36.13 44.16 52.19 60.21 68.24 76.27 84.3 92.33 100.36 108.39 116.41 124.44 132.47 140.5 148.53 156.56 164.59 172.61" y="0.6">INSERTION DEPTH OF FPC</text></g>
<text class="s" x="521.7" y="141.5" font-size="11.3" textLength="49" lengthAdjust="spacingAndGlyphs" fill="#555">剖面 A-A</text>
</g>
<g id="topview">
<polyline points="163.3,305 163.3,208.4 380.5,208.4 380.5,305" class="o"/>
<line x1="163.3" y1="297.7" x2="184" y2="297.7" class="n"/>
<line x1="163.3" y1="300.5" x2="184" y2="300.5" class="n"/>
<line x1="163.3" y1="303.2" x2="184" y2="303.2" class="n"/>
<line x1="163.3" y1="305.2" x2="184" y2="305.2" class="n"/>
<path d="M188.6,306.8 H169 Q165.5,306.8 165.5,310.3 V347 Q165.5,350.5 169,350.5 H242.3 L245.9,346.5 H271.9" class="o"/>
<rect x="183.4" y="236.3" width="2.9" height="60.7" style="fill:#999;stroke:none"/>
<line x1="183.4" y1="236.3" x2="183.4" y2="320.5" class="o"/>
<polyline points="186.3,236.3 186.3,262 188.6,292.3 203.2,307.7 203.2,314" class="o"/>
<path d="M203.2,314 Q203.2,320.5 197.5,320.5 H183.4" class="o"/>
<polyline points="185.6,297 185.6,318.8 197.5,318.8" class="n"/>
<path d="M197.5,318.8 Q201.6,318.5 201.6,313.5 V308.3 L188.2,294" class="n"/>
<line x1="188.6" y1="292.3" x2="188.6" y2="306.8" class="n"/>
<polyline points="186.3,262 187.5,292" class="n"/>
<line x1="186.3" y1="244" x2="198" y2="244" class="k"/>
<line x1="186.3" y1="248.5" x2="216.5" y2="248.5" class="n"/>
<line x1="199.4" y1="236.3" x2="199.4" y2="244" class="n"/>
<line x1="198" y1="244" x2="216.5" y2="244" class="n"/>
<polyline points="202,236.3 202,242.2 209.7,242.2 209.7,236.3" class="o"/>
<polyline points="203.9,236.3 203.9,241.2 207.9,241.2 207.9,236.3" class="n"/>
<polygon points="199.8,245.3 212,245.3 211,262.4 201.2,262.4" class="o" style="fill:#fff"/>
<line x1="200" y1="246.7" x2="211.9" y2="246.7" class="n"/>
<line x1="380.5" y1="297.7" x2="359.8" y2="297.7" class="n"/>
<line x1="380.5" y1="300.5" x2="359.8" y2="300.5" class="n"/>
<line x1="380.5" y1="303.2" x2="359.8" y2="303.2" class="n"/>
<line x1="380.5" y1="305.2" x2="359.8" y2="305.2" class="n"/>
<path d="M355.2,306.8 H374.8 Q378.3,306.8 378.3,310.3 V347 Q378.3,350.5 374.8,350.5 H301.5 L297.9,346.5 H271.9" class="o"/>
<rect x="357.5" y="236.3" width="2.9" height="60.7" style="fill:#999;stroke:none"/>
<line x1="360.4" y1="236.3" x2="360.4" y2="320.5" class="o"/>
<polyline points="357.5,236.3 357.5,262 355.2,292.3 340.6,307.7 340.6,314" class="o"/>
<path d="M340.6,314 Q340.6,320.5 346.3,320.5 H360.4" class="o"/>
<polyline points="358.2,297 358.2,318.8 346.3,318.8" class="n"/>
<path d="M346.3,318.8 Q342.2,318.5 342.2,313.5 V308.3 L355.6,294" class="n"/>
<line x1="355.2" y1="292.3" x2="355.2" y2="306.8" class="n"/>
<polyline points="357.5,262 356.3,292" class="n"/>
<line x1="357.5" y1="244" x2="345.8" y2="244" class="k"/>
<line x1="357.5" y1="248.5" x2="327.3" y2="248.5" class="n"/>
<line x1="344.4" y1="236.3" x2="344.4" y2="244" class="n"/>
<line x1="345.8" y1="244" x2="327.3" y2="244" class="n"/>
<polyline points="341.8,236.3 341.8,242.2 334.1,242.2 334.1,236.3" class="o"/>
<polyline points="339.9,236.3 339.9,241.2 335.9,241.2 335.9,236.3" class="n"/>
<polygon points="344,245.3 331.8,245.3 332.8,262.4 342.6,262.4" class="o" style="fill:#fff"/>
<line x1="343.8" y1="246.7" x2="331.9" y2="246.7" class="n"/>
<line x1="183.4" y1="236.3" x2="360.4" y2="236.3" class="o"/>
<rect x="218.7" y="236.3" width="6.4" height="3.7" style="fill:#888;stroke:none"/>
<rect x="216.5" y="244.4" width="2.7" height="22.1" style="fill:#666;stroke:#000;stroke-width:.7"/>
<rect x="224.6" y="244.4" width="2.7" height="22.1" style="fill:#666;stroke:#000;stroke-width:.7"/>
<line x1="218.7" y1="236.3" x2="218.7" y2="244.4" class="n"/>
<line x1="225.1" y1="236.3" x2="225.1" y2="244.4" class="n"/>
<line x1="218.7" y1="240" x2="225.1" y2="240" class="n"/>
<line x1="218.7" y1="241.4" x2="225.1" y2="241.4" class="n"/>
<line x1="219.2" y1="257.5" x2="224.6" y2="257.5" class="k"/>
<line x1="219.2" y1="260.2" x2="224.6" y2="260.2" class="k"/>
<line x1="219.2" y1="262.9" x2="224.6" y2="262.9" class="k"/>
<line x1="216.5" y1="266.2" x2="227.3" y2="266.2" class="k"/>
<line x1="225.1" y1="244" x2="238.75" y2="244" class="n"/>
<line x1="227.3" y1="248.5" x2="236.55" y2="248.5" class="n"/>
<rect x="218.9" y="350.5" width="6" height="5.5" class="n" style="fill:#fff"/>
<rect x="220.1" y="351.8" width="3.6" height="4.2" class="n"/>
<rect x="238.75" y="236.3" width="6.4" height="3.7" style="fill:#888;stroke:none"/>
<rect x="236.55" y="244.4" width="2.7" height="22.1" style="fill:#666;stroke:#000;stroke-width:.7"/>
<rect x="244.65" y="244.4" width="2.7" height="22.1" style="fill:#666;stroke:#000;stroke-width:.7"/>
<line x1="238.75" y1="236.3" x2="238.75" y2="244.4" class="n"/>
<line x1="245.15" y1="236.3" x2="245.15" y2="244.4" class="n"/>
<line x1="238.75" y1="240" x2="245.15" y2="240" class="n"/>
<line x1="238.75" y1="241.4" x2="245.15" y2="241.4" class="n"/>
<line x1="239.25" y1="257.5" x2="244.65" y2="257.5" class="k"/>
<line x1="239.25" y1="260.2" x2="244.65" y2="260.2" class="k"/>
<line x1="239.25" y1="262.9" x2="244.65" y2="262.9" class="k"/>
<line x1="236.55" y1="266.2" x2="247.35" y2="266.2" class="k"/>
<line x1="245.15" y1="244" x2="258.8" y2="244" class="n"/>
<line x1="247.35" y1="248.5" x2="256.6" y2="248.5" class="n"/>
<rect x="238.95" y="350.5" width="6" height="5.5" class="n" style="fill:#fff"/>
<rect x="240.15" y="351.8" width="3.6" height="4.2" class="n"/>
<rect x="258.8" y="236.3" width="6.4" height="3.7" style="fill:#888;stroke:none"/>
<rect x="256.6" y="244.4" width="2.7" height="22.1" style="fill:#666;stroke:#000;stroke-width:.7"/>
<rect x="264.7" y="244.4" width="2.7" height="22.1" style="fill:#666;stroke:#000;stroke-width:.7"/>
<line x1="258.8" y1="236.3" x2="258.8" y2="244.4" class="n"/>
<line x1="265.2" y1="236.3" x2="265.2" y2="244.4" class="n"/>
<line x1="258.8" y1="240" x2="265.2" y2="240" class="n"/>
<line x1="258.8" y1="241.4" x2="265.2" y2="241.4" class="n"/>
<line x1="259.3" y1="257.5" x2="264.7" y2="257.5" class="k"/>
<line x1="259.3" y1="260.2" x2="264.7" y2="260.2" class="k"/>
<line x1="259.3" y1="262.9" x2="264.7" y2="262.9" class="k"/>
<line x1="256.6" y1="266.2" x2="267.4" y2="266.2" class="k"/>
<line x1="265.2" y1="244" x2="278.85" y2="244" class="n"/>
<line x1="267.4" y1="248.5" x2="276.65" y2="248.5" class="n"/>
<rect x="259" y="346.5" width="6" height="9.5" class="n" style="fill:#fff"/>
<rect x="260.2" y="349.5" width="3.6" height="6.5" class="n"/>
<rect x="278.85" y="236.3" width="6.4" height="3.7" style="fill:#888;stroke:none"/>
<rect x="276.65" y="244.4" width="2.7" height="22.1" style="fill:#666;stroke:#000;stroke-width:.7"/>
<rect x="284.75" y="244.4" width="2.7" height="22.1" style="fill:#666;stroke:#000;stroke-width:.7"/>
<line x1="278.85" y1="236.3" x2="278.85" y2="244.4" class="n"/>
<line x1="285.25" y1="236.3" x2="285.25" y2="244.4" class="n"/>
<line x1="278.85" y1="240" x2="285.25" y2="240" class="n"/>
<line x1="278.85" y1="241.4" x2="285.25" y2="241.4" class="n"/>
<line x1="279.35" y1="257.5" x2="284.75" y2="257.5" class="k"/>
<line x1="279.35" y1="260.2" x2="284.75" y2="260.2" class="k"/>
<line x1="279.35" y1="262.9" x2="284.75" y2="262.9" class="k"/>
<line x1="276.65" y1="266.2" x2="287.45" y2="266.2" class="k"/>
<line x1="285.25" y1="244" x2="298.9" y2="244" class="n"/>
<line x1="287.45" y1="248.5" x2="296.7" y2="248.5" class="n"/>
<rect x="279.05" y="346.5" width="6" height="9.5" class="n" style="fill:#fff"/>
<rect x="280.25" y="349.5" width="3.6" height="6.5" class="n"/>
<rect x="298.9" y="236.3" width="6.4" height="3.7" style="fill:#888;stroke:none"/>
<rect x="296.7" y="244.4" width="2.7" height="22.1" style="fill:#666;stroke:#000;stroke-width:.7"/>
<rect x="304.8" y="244.4" width="2.7" height="22.1" style="fill:#666;stroke:#000;stroke-width:.7"/>
<line x1="298.9" y1="236.3" x2="298.9" y2="244.4" class="n"/>
<line x1="305.3" y1="236.3" x2="305.3" y2="244.4" class="n"/>
<line x1="298.9" y1="240" x2="305.3" y2="240" class="n"/>
<line x1="298.9" y1="241.4" x2="305.3" y2="241.4" class="n"/>
<line x1="299.4" y1="257.5" x2="304.8" y2="257.5" class="k"/>
<line x1="299.4" y1="260.2" x2="304.8" y2="260.2" class="k"/>
<line x1="299.4" y1="262.9" x2="304.8" y2="262.9" class="k"/>
<line x1="296.7" y1="266.2" x2="307.5" y2="266.2" class="k"/>
<line x1="305.3" y1="244" x2="318.95" y2="244" class="n"/>
<line x1="307.5" y1="248.5" x2="316.75" y2="248.5" class="n"/>
<rect x="299.1" y="350.5" width="6" height="5.5" class="n" style="fill:#fff"/>
<rect x="300.3" y="351.8" width="3.6" height="4.2" class="n"/>
<rect x="318.95" y="236.3" width="6.4" height="3.7" style="fill:#888;stroke:none"/>
<rect x="316.75" y="244.4" width="2.7" height="22.1" style="fill:#666;stroke:#000;stroke-width:.7"/>
<rect x="324.85" y="244.4" width="2.7" height="22.1" style="fill:#666;stroke:#000;stroke-width:.7"/>
<line x1="318.95" y1="236.3" x2="318.95" y2="244.4" class="n"/>
<line x1="325.35" y1="236.3" x2="325.35" y2="244.4" class="n"/>
<line x1="318.95" y1="240" x2="325.35" y2="240" class="n"/>
<line x1="318.95" y1="241.4" x2="325.35" y2="241.4" class="n"/>
<line x1="319.45" y1="257.5" x2="324.85" y2="257.5" class="k"/>
<line x1="319.45" y1="260.2" x2="324.85" y2="260.2" class="k"/>
<line x1="319.45" y1="262.9" x2="324.85" y2="262.9" class="k"/>
<line x1="316.75" y1="266.2" x2="327.55" y2="266.2" class="k"/>
<rect x="319.15" y="350.5" width="6" height="5.5" class="n" style="fill:#fff"/>
<rect x="320.35" y="351.8" width="3.6" height="4.2" class="n"/>
<text class="s" transform="translate(234.5,342) rotate(-90)" font-size="35.8" textLength="72" lengthAdjust="spacingAndGlyphs" style="fill:#fff;stroke:#000;stroke-width:1.15">HRD</text>
<line x1="272.3" y1="203" x2="272.3" y2="362" class="c" style="stroke-dasharray:72 6 4 6"/>
<text class="t" x="273" y="202.8" font-size="11" textLength="5" lengthAdjust="spacingAndGlyphs">C</text>
<text class="t" x="274.9" y="205.8" font-size="11" textLength="5" lengthAdjust="spacingAndGlyphs">L</text>
<line x1="163.3" y1="178.3" x2="163.3" y2="206" class="d"/>
<line x1="380.5" y1="178.3" x2="380.5" y2="206" class="d"/>
<line x1="163.3" y1="181.7" x2="380.5" y2="181.7" class="d"/>
<polygon class="ar" points="163.3,181.7 170.3,180.35 170.3,183.05"/>
<polygon class="ar" points="380.5,181.7 373.5,183.05 373.5,180.35"/>
<g><text class="tri" transform="translate(242.7,179.3)" font-size="10.44" x="5.57" y="0.3" text-anchor="middle">▼</text><text class="m" transform="translate(242.7,179.3) scale(0.7,1)" font-size="11.6" x="18.82 24.69 33.88 41.41 48.94" y="0.6">5.40 </text><text class="t" transform="translate(242.7,179.3)" font-size="12.53" x="43.48" y="0.6" text-anchor="middle" style="stroke:#000;stroke-width:.2px">±</text><text class="m" transform="translate(242.7,179.3) scale(0.7,1)" font-size="11.6" x="71.52 77.39 86.58 94.11" y="0.6">0.10</text></g>
<circle cx="322.3" cy="173.3" r="8.4" class="d"/>
<text class="s" x="322.3" y="177.5" font-size="12" text-anchor="middle">2</text>
<line x1="118" y1="208.4" x2="160.7" y2="208.4" class="d"/>
<line x1="118" y1="356" x2="216.5" y2="356" class="d"/>
<line x1="141" y1="350.7" x2="166.5" y2="350.7" class="d"/>
<line x1="121" y1="208.4" x2="121" y2="356" class="d"/>
<polygon class="ar" points="121,208.4 122.35,215.4 119.65,215.4"/>
<polygon class="ar" points="121,356 119.65,349 122.35,349"/>
<line x1="144.3" y1="208.4" x2="144.3" y2="350.7" class="d"/>
<polygon class="ar" points="144.3,208.4 145.65,215.4 142.95,215.4"/>
<polygon class="ar" points="144.3,350.7 142.95,343.7 145.65,343.7"/>
<circle cx="111.7" cy="239" r="8.4" class="d"/>
<text class="s" x="111.7" y="243.2" font-size="12" text-anchor="middle">3</text>
<circle cx="135" cy="239" r="8.4" class="d"/>
<text class="s" x="135" y="243.2" font-size="12" text-anchor="middle">4</text>
<g><text class="tri" transform="translate(119.2,287) rotate(-90)" font-size="10.44" x="5.6" y="0.3" text-anchor="middle">▼</text><text class="m" transform="translate(119.2,287) rotate(-90) scale(0.7,1)" font-size="11.6" x="18.93 24.83 34.07 41.64" y="0.6">3.69</text></g>
<g><text class="tri" transform="translate(142.5,287) rotate(-90)" font-size="10.44" x="5.6" y="0.3" text-anchor="middle">▼</text><text class="m" transform="translate(142.5,287) rotate(-90) scale(0.7,1)" font-size="11.6" x="18.93 24.83 34.07 41.64" y="0.6">3.55</text></g>
<line x1="221.9" y1="357.5" x2="221.9" y2="406.5" class="d"/>
<line x1="241.9" y1="357.5" x2="241.9" y2="388.5" class="d"/>
<line x1="322.1" y1="357.5" x2="322.1" y2="406.5" class="d"/>
<line x1="221.9" y1="343" x2="221.9" y2="349" class="d"/>
<line x1="241.9" y1="343" x2="241.9" y2="349" class="d"/>
<line x1="322.1" y1="343" x2="322.1" y2="349" class="d"/>
<line x1="176.7" y1="386" x2="221.9" y2="386" class="d"/>
<line x1="221.9" y1="386" x2="241.9" y2="386" class="d"/>
<polygon class="ar" points="221.9,386 228.4,384.65 228.4,387.35"/>
<polygon class="ar" points="241.9,386 235.4,387.35 235.4,384.65"/>
<g><text class="tri" transform="translate(182.7,384)" font-size="10.44" x="5.6" y="0.3" text-anchor="middle">▼</text><text class="m" transform="translate(182.7,384) scale(0.7,1)" font-size="11.6" x="18.93 24.83 34.07 41.64" y="0.6">0.50</text></g>
<circle cx="167.3" cy="381" r="8.4" class="d"/>
<text class="s" x="167.3" y="385.2" font-size="12" text-anchor="middle">5</text>
<line x1="221.9" y1="404" x2="322.1" y2="404" class="d"/>
<polygon class="ar" points="221.9,404 228.9,402.65 228.9,405.35"/>
<polygon class="ar" points="322.1,404 315.1,405.35 315.1,402.65"/>
<g><text class="tri" transform="translate(254.5,402.3)" font-size="10.44" x="5.6" y="0.3" text-anchor="middle">▼</text><text class="m" transform="translate(254.5,402.3) scale(0.7,1)" font-size="11.6" x="18.93 24.83 34.07 41.64" y="0.6">2.50</text></g>
<circle cx="296.7" cy="395" r="8.4" class="d"/>
<text class="s" x="296.7" y="399.2" font-size="12" text-anchor="middle">6</text>
<g><text class="m" transform="translate(400,204) scale(0.7,1)" font-size="11.3" x="3.79 11.36 18.93 26.5" y="0.6">BODY</text></g>
<line x1="398.3" y1="205.8" x2="421.7" y2="205.8" class="l"/>
<line x1="398.3" y1="205.8" x2="374.5" y2="218.8" class="l"/>
<polygon class="ar" points="373.3,219.4 378.37,215.11 379.66,217.48"/>
<g><text class="m" transform="translate(391,319.3) scale(0.7,1)" font-size="11.3" x="3.89 11.68 19.46 27.25 35.04" y="0.6">COVER</text></g>
<line x1="390.5" y1="321.3" x2="419" y2="321.3" class="l"/>
<line x1="390.5" y1="321.3" x2="370.5" y2="328.9" class="l"/>
<polygon class="ar" points="369.3,329.4 374.88,325.81 375.85,328.33"/>
<g><text class="m" transform="translate(344,373.3) scale(0.7,1)" font-size="11.3" x="3.71 11.14 18.57 26 33.43 40.86 48.29 55.71" y="0.6">TERMINAL</text></g>
<line x1="342.3" y1="369.3" x2="325.3" y2="353.3" class="l"/>
<polygon class="ar" points="324.3,352.3 329.94,355.8 328.09,357.75"/>
</g>
<g id="sideview">
<line x1="521.2" y1="174" x2="521.2" y2="235" class="d"/>
<line x1="652.3" y1="174" x2="652.3" y2="385.7" class="o"/>
<line x1="521.2" y1="176.6" x2="651.8" y2="176.6" class="d"/>
<polygon class="ar" points="521.2,176.6 528.2,175.25 528.2,177.95"/>
<polygon class="ar" points="651.8,176.6 644.8,177.95 644.8,175.25"/>
<g><text class="m" transform="translate(570.2,175.5) scale(0.62,1)" font-size="11.6" x="3.43 10.28 17.14 22.48 30.85 37.7 44.56 51.41" y="0.6">( 3.24 )</text></g>
<line x1="613.6" y1="191" x2="613.6" y2="206" class="d"/>
<line x1="541" y1="193.8" x2="613.6" y2="193.8" class="d"/>
<line x1="613.6" y1="193.8" x2="651.8" y2="193.8" class="d"/>
<polygon class="ar" points="613.6,193.8 620.1,192.45 620.1,195.15"/>
<polygon class="ar" points="651.8,193.8 645.3,195.15 645.3,192.45"/>
<circle cx="533.6" cy="189.4" r="8.4" class="d"/>
<text class="s" x="533.6" y="193.6" font-size="12" text-anchor="middle">7</text>
<g><text class="tri" transform="translate(543.5,191)" font-size="10.44" x="5.6" y="0.3" text-anchor="middle">▼</text><text class="m" transform="translate(543.5,191) scale(0.7,1)" font-size="11.6" x="18.93 24.83 34.07 41.64 49.21" y="0.6">0.90 </text><text class="t" transform="translate(543.5,191)" font-size="12.53" x="43.73" y="0.6" text-anchor="middle" style="stroke:#000;stroke-width:.2px">±</text><text class="m" transform="translate(543.5,191) scale(0.7,1)" font-size="11.6" x="71.93 77.83 87.07 94.64" y="0.6">0.10</text></g>
<path d="M651.8,208.6 H614.3 V299.5 Q614.3,305 620,305" class="o"/>
<line x1="651.6" y1="208.6" x2="651.6" y2="356" class="o"/>
<polyline points="621.78,208.57 628.21,215 628.21,234.28 643.2,250.35 643.2,257.85 646.42,257.85 646.42,242.85 651.78,237.5" class="o"/>
<polyline points="628.21,215 631.42,210.71 644.28,210.71 647.49,215 651.78,215" class="o"/>
<polyline points="631.42,210.71 631.42,208.57" class="n"/>
<polyline points="644.28,210.71 644.28,208.57" class="n"/>
<polyline points="623.92,208.57 629.71,213.28" class="n"/>
<line x1="509" y1="237.1" x2="521.2" y2="237.1" class="d"/>
<line x1="521.2" y1="237.1" x2="567.1" y2="237.1" class="h"/>
<line x1="567.1" y1="237.1" x2="614.3" y2="237.1" class="o"/>
<polyline points="522.14,236.43 522.14,243.93 531.78,250.35" class="o"/>
<polyline points="531.78,250.35 531.78,269.64 562.85,269.64 567.14,264.28 567.14,247.14" class="h"/>
<line x1="562.42" y1="237.1" x2="562.42" y2="269.64" class="h"/>
<polyline points="567.14,236.43 567.14,247.14 578.92,247.14 614.28,254.64" class="o"/>
<line x1="578.92" y1="247.14" x2="609.99" y2="247.14" class="o"/>
<line x1="578.92" y1="237.1" x2="578.92" y2="247.14" class="o"/>
<line x1="582.57" y1="237.1" x2="582.57" y2="247.14" class="o"/>
<line x1="590.28" y1="237.1" x2="590.28" y2="247.14" class="o"/>
<line x1="609.99" y1="237.1" x2="609.99" y2="253.57" class="o"/>
<line x1="565.64" y1="237.1" x2="565.64" y2="247.14" class="n"/>
<polygon points="614.71,304.99 647.49,304.99 647.49,340.35 629.28,340.35 622.42,349.99 614.71,349.99" class="o"/>
<line x1="616.63" y1="304.99" x2="616.63" y2="349.99" class="n"/>
<line x1="614.71" y1="309.28" x2="644.28" y2="309.28" class="n"/>
<polyline points="644.28,304.99 647.49,309.28" class="n"/>
<line x1="624.99" y1="303.49" x2="624.99" y2="305.42" class="k"/>
<line x1="630.35" y1="303.49" x2="630.35" y2="305.42" class="k"/>
<line x1="635.7" y1="303.49" x2="635.7" y2="305.42" class="k"/>
<path d="M642.13,340.35 V352.13 Q642.13,356.42 646.42,356.42 H651.6" class="o"/>
<path d="M651.78,313.56 Q646.42,319.99 651.78,326.42" class="n"/>
<line x1="508.5" y1="350.6" x2="612.3" y2="350.6" class="d"/>
<line x1="511" y1="237.1" x2="511" y2="350.6" class="d"/>
<polygon class="ar" points="511,237.1 512.35,244.1 509.65,244.1"/>
<polygon class="ar" points="511,350.6 509.65,343.6 512.35,343.6"/>
<g><text class="m" transform="translate(509.5,304.5) rotate(-90) scale(0.62,1)" font-size="11.6" x="3.59 10.77 16.36 25.12 32.3 39.48" y="0.6">(2.84)</text></g>
<rect x="652.3" y="367.6" width="76.4" height="18.1" class="o"/>
<line x1="670.8" y1="367.6" x2="670.8" y2="385.7" class="o"/>
<polygon points="656.5,381.5 660.3,372 667.5,372 663.7,381.5" class="d"/>
<g><text class="tri" transform="translate(676.2,379.6)" font-size="10.44" x="5.6" y="0.3" text-anchor="middle">▼</text><text class="m" transform="translate(676.2,379.6) scale(0.7,1)" font-size="11.6" x="18.93 24.83 34.07 41.64 49.21 56.79 64.36" y="0.6">0.08MAX</text></g>
<circle cx="693.7" cy="355.5" r="8.4" class="d"/>
<text class="s" x="693.7" y="359.7" font-size="12" text-anchor="middle">8</text>
</g>
<g id="plug">
<path d="M423.9,467.5 V496.2 Q423.9,499.7 427.4,499.7 H430.6 A8,8 0 0 1 438.6,507.7 V512.2 A8,8 0 0 1 430.6,520.2 H427.4 Q423.9,520.2 423.9,523.7 V608" class="o"/>
<path d="M564.4,467.5 V496.2 Q564.4,499.7 560.9,499.7 H557.7 A8,8 0 0 0 549.7,507.7 V512.2 A8,8 0 0 0 557.7,520.2 H560.9 Q564.4,520.2 564.4,523.7 V608" class="o"/>
<line x1="423.9" y1="608" x2="564.4" y2="608" class="o"/>
<line x1="387.8" y1="467.5" x2="592.2" y2="467.5" class="o"/>
<line x1="423.9" y1="562.3" x2="564.4" y2="562.3" class="o"/>
<clipPath id="pads">
<rect x="458.04" y="467.5" width="12" height="94.8"/>
<rect x="478.11" y="467.5" width="12" height="94.8"/>
<rect x="498.19" y="467.5" width="12" height="94.8"/>
<rect x="518.25" y="467.5" width="12" height="94.8"/>
<polygon points="423.9,467.5 449.97,467.5 449.97,562.3 437.97,562.3 437.97,499.7 423.9,499.7"/>
<polygon points="564.4,467.5 538.33,467.5 538.33,562.3 550.33,562.3 550.33,499.7 564.4,499.7"/>
</clipPath>
<clipPath id="pout"><polygon points="423.9,467.5 423.9,499.7 428.2,499.7 430.85,500.05 433.32,501.07 435.45,502.7 437.08,504.83 438.1,507.3 438.45,509.95 438.1,512.6 437.08,515.08 435.45,517.2 433.32,518.83 430.85,519.85 428.2,520.2 423.9,520.2 423.9,608 564.4,608 564.4,520.2 560.1,520.2 557.45,519.85 554.97,518.83 552.85,517.2 551.22,515.08 550.2,512.6 549.85,509.95 550.2,507.3 551.22,504.83 552.85,502.7 554.97,501.07 557.45,500.05 560.1,499.7 564.4,499.7 564.4,467.5"/></clipPath>
<g clip-path="url(#pout)"><g clip-path="url(#pads)" class="d">
<line x1="322.32" y1="582.3" x2="423.9" y2="447.5"/>
<line x1="329.82" y1="582.3" x2="431.4" y2="447.5"/>
<line x1="337.32" y1="582.3" x2="438.9" y2="447.5"/>
<line x1="344.82" y1="582.3" x2="446.4" y2="447.5"/>
<line x1="352.32" y1="582.3" x2="453.9" y2="447.5"/>
<line x1="359.82" y1="582.3" x2="461.4" y2="447.5"/>
<line x1="367.32" y1="582.3" x2="468.9" y2="447.5"/>
<line x1="374.82" y1="582.3" x2="476.4" y2="447.5"/>
<line x1="382.32" y1="582.3" x2="483.9" y2="447.5"/>
<line x1="389.82" y1="582.3" x2="491.4" y2="447.5"/>
<line x1="397.32" y1="582.3" x2="498.9" y2="447.5"/>
<line x1="404.82" y1="582.3" x2="506.4" y2="447.5"/>
<line x1="412.32" y1="582.3" x2="513.9" y2="447.5"/>
<line x1="419.82" y1="582.3" x2="521.4" y2="447.5"/>
<line x1="427.32" y1="582.3" x2="528.9" y2="447.5"/>
<line x1="434.82" y1="582.3" x2="536.4" y2="447.5"/>
<line x1="442.32" y1="582.3" x2="543.9" y2="447.5"/>
<line x1="449.82" y1="582.3" x2="551.4" y2="447.5"/>
<line x1="457.32" y1="582.3" x2="558.9" y2="447.5"/>
<line x1="464.82" y1="582.3" x2="566.4" y2="447.5"/>
<line x1="472.32" y1="582.3" x2="573.9" y2="447.5"/>
<line x1="479.82" y1="582.3" x2="581.4" y2="447.5"/>
<line x1="487.32" y1="582.3" x2="588.9" y2="447.5"/>
<line x1="494.82" y1="582.3" x2="596.4" y2="447.5"/>
<line x1="502.32" y1="582.3" x2="603.9" y2="447.5"/>
<line x1="509.82" y1="582.3" x2="611.4" y2="447.5"/>
<line x1="517.32" y1="582.3" x2="618.9" y2="447.5"/>
<line x1="524.82" y1="582.3" x2="626.4" y2="447.5"/>
<line x1="532.32" y1="582.3" x2="633.9" y2="447.5"/>
<line x1="539.82" y1="582.3" x2="641.4" y2="447.5"/>
<line x1="547.32" y1="582.3" x2="648.9" y2="447.5"/>
<line x1="554.82" y1="582.3" x2="656.4" y2="447.5"/>
<line x1="562.32" y1="582.3" x2="663.9" y2="447.5"/>
</g></g>
<line x1="437.97" y1="467.5" x2="437.97" y2="562.3" class="o"/>
<line x1="449.97" y1="467.5" x2="449.97" y2="562.3" class="o"/>
<line x1="458.04" y1="467.5" x2="458.04" y2="562.3" class="o"/>
<line x1="470.04" y1="467.5" x2="470.04" y2="562.3" class="o"/>
<line x1="478.11" y1="467.5" x2="478.11" y2="562.3" class="o"/>
<line x1="490.11" y1="467.5" x2="490.11" y2="562.3" class="o"/>
<line x1="498.19" y1="467.5" x2="498.19" y2="562.3" class="o"/>
<line x1="510.19" y1="467.5" x2="510.19" y2="562.3" class="o"/>
<line x1="518.25" y1="467.5" x2="518.25" y2="562.3" class="o"/>
<line x1="530.25" y1="467.5" x2="530.25" y2="562.3" class="o"/>
<line x1="538.32" y1="467.5" x2="538.32" y2="562.3" class="o"/>
<line x1="550.32" y1="467.5" x2="550.32" y2="562.3" class="o"/>
<line x1="443.97" y1="428" x2="443.97" y2="567" class="c" style="stroke-dasharray:70 5 4 5"/>
<line x1="464.04" y1="460" x2="464.04" y2="598" class="c" style="stroke-dasharray:45 5 4 5"/>
<line x1="484.11" y1="460" x2="484.11" y2="598" class="c" style="stroke-dasharray:45 5 4 5"/>
<line x1="504.19" y1="460" x2="504.19" y2="567" class="c" style="stroke-dasharray:45 5 4 5"/>
<line x1="524.25" y1="460" x2="524.25" y2="567" class="c" style="stroke-dasharray:45 5 4 5"/>
<line x1="544.32" y1="460" x2="544.32" y2="590" class="c" style="stroke-dasharray:45 5 4 5"/>
<line x1="494.15" y1="453" x2="494.15" y2="621" class="c" style="stroke-dasharray:58 5 4 5"/>
<text class="t" x="486.5" y="617.8" font-size="11" textLength="5" lengthAdjust="spacingAndGlyphs">C</text>
<text class="t" x="488.4" y="620.8" font-size="11" textLength="5" lengthAdjust="spacingAndGlyphs">L</text>
<line x1="423.9" y1="398.5" x2="423.9" y2="467.5" class="d"/>
<line x1="564.4" y1="398.5" x2="564.4" y2="467.5" class="d"/>
<line x1="423.9" y1="403.2" x2="564.4" y2="403.2" class="d"/>
<polygon class="ar" points="423.9,403.2 430.9,401.85 430.9,404.55"/>
<polygon class="ar" points="564.4,403.2 557.4,404.55 557.4,401.85"/>
<g><text class="m" transform="translate(459.9,401.4) scale(0.7,1)" font-size="11.6" x="3.86 9.87 19.29 27 34.71" y="0.6">3.50 </text><text class="t" transform="translate(459.9,401.4)" font-size="12.53" x="33.75" y="0.6" text-anchor="middle" style="stroke:#000;stroke-width:.2px">±</text><text class="m" transform="translate(459.9,401.4) scale(0.7,1)" font-size="11.6" x="57.86 63.87 73.29 81" y="0.6">0.05</text></g>
<line x1="437.97" y1="412" x2="437.97" y2="467.5" class="d"/>
<line x1="550.32" y1="412" x2="550.32" y2="467.5" class="d"/>
<line x1="437.97" y1="416.9" x2="550.32" y2="416.9" class="d"/>
<polygon class="ar" points="437.97,416.9 444.97,415.55 444.97,418.25"/>
<polygon class="ar" points="550.32,416.9 543.32,418.25 543.32,415.55"/>
<g><text class="m" transform="translate(459.9,415.1) scale(0.7,1)" font-size="11.6" x="3.86 9.87 19.29 27 34.71" y="0.6">2.80 </text><text class="t" transform="translate(459.9,415.1)" font-size="12.53" x="33.75" y="0.6" text-anchor="middle" style="stroke:#000;stroke-width:.2px">±</text><text class="m" transform="translate(459.9,415.1) scale(0.7,1)" font-size="11.6" x="57.86 63.87 73.29 81" y="0.6">0.05</text></g>
<line x1="423.9" y1="431.3" x2="520" y2="431.3" class="d"/>
<polygon class="ar" points="423.9,431.3 430.4,429.95 430.4,432.65"/>
<polygon class="ar" points="443.97,431.3 437.47,432.65 437.47,429.95"/>
<g><text class="m" transform="translate(459.9,429.5) scale(0.7,1)" font-size="11.6" x="3.86 9.87 19.29 27 34.71" y="0.6">0.50 </text><text class="t" transform="translate(459.9,429.5)" font-size="12.53" x="33.75" y="0.6" text-anchor="middle" style="stroke:#000;stroke-width:.2px">±</text><text class="m" transform="translate(459.9,429.5) scale(0.7,1)" font-size="11.6" x="57.86 63.87 73.29 81" y="0.6">0.08</text></g>
<line x1="459.9" y1="445.7" x2="564.4" y2="445.7" class="d"/>
<polygon class="ar" points="544.32,445.7 550.82,444.35 550.82,447.05"/>
<polygon class="ar" points="564.4,445.7 557.9,447.05 557.9,444.35"/>
<line x1="544.32" y1="440" x2="544.32" y2="460" class="d"/>
<g><text class="m" transform="translate(459.9,443.9) scale(0.7,1)" font-size="11.6" x="3.86 9.87 19.29 27 34.71" y="0.6">0.50 </text><text class="t" transform="translate(459.9,443.9)" font-size="12.53" x="33.75" y="0.6" text-anchor="middle" style="stroke:#000;stroke-width:.2px">±</text><text class="m" transform="translate(459.9,443.9) scale(0.7,1)" font-size="11.6" x="57.86 63.87 73.29 81" y="0.6">0.08</text></g>
<line x1="406.9" y1="404.4" x2="406.9" y2="467.5" class="d"/>
<line x1="406.9" y1="467.5" x2="406.9" y2="499.7" class="d"/>
<polygon class="ar" points="406.9,467.5 408.25,474.5 405.55,474.5"/>
<polygon class="ar" points="406.9,499.7 405.55,492.7 408.25,492.7"/>
<line x1="404" y1="499.7" x2="423.9" y2="499.7" class="d"/>
<g><text class="m" transform="translate(405.3,464) rotate(-90) scale(0.7,1)" font-size="11.6" x="3.86 9.87 19.29 27 34.71" y="0.6">0.80 </text><text class="t" transform="translate(405.3,464) rotate(-90)" font-size="12.53" x="33.75" y="0.6" text-anchor="middle" style="stroke:#000;stroke-width:.2px">±</text><text class="m" transform="translate(405.3,464) rotate(-90) scale(0.7,1)" font-size="11.6" x="57.86 63.87 73.29 81" y="0.6">0.10</text></g>
<line x1="389.6" y1="467.5" x2="389.6" y2="520.2" class="d"/>
<polygon class="ar" points="389.6,467.5 390.95,474.5 388.25,474.5"/>
<polygon class="ar" points="389.6,520.2 388.25,513.2 390.95,513.2"/>
<line x1="387.8" y1="520.2" x2="437.9" y2="520.2" class="d"/>
<g><text class="m" transform="translate(388,513.5) rotate(-90) scale(0.7,1)" font-size="11.6" x="3.79 9.69 18.93 26.5 34.07 41.64 49.21" y="0.6">1.30MIN</text></g>
<line x1="600.5" y1="432.5" x2="563.6" y2="469" class="d"/>
<polygon class="ar" points="562.4,470.2 566.04,464.65 567.95,466.56"/>
<g><text class="m" transform="translate(575.4,455) rotate(-45) scale(0.7,1)" font-size="11.3" x="3.71 11.14 16.94 26 33.43" y="0.6">R0.20</text></g>
<line x1="362.6" y1="575.6" x2="439.2" y2="498.3" class="d"/>
<polygon class="ar" points="440.3,497.2 436.69,502.77 434.77,500.87"/>
<g><text class="m" transform="translate(366.5,569) rotate(-45.3) scale(0.7,1)" font-size="11.3" x="3.64 10.93 18.21 25.5 31.18 40.07 47.36" y="0.6">2*R0.10</text></g>
<line x1="389.6" y1="577.4" x2="427" y2="515.2" class="d"/>
<polygon class="ar" points="427.6,514.2 425.41,520.47 423.1,519.08"/>
<g><text class="m" transform="translate(391,572) rotate(-59) scale(0.7,1)" font-size="11.3" x="3.64 10.93 18.21 25.5 31.18 40.07 47.36" y="0.6">2*R0.20</text></g>
<line x1="564.4" y1="562.3" x2="592.2" y2="562.3" class="d"/>
<line x1="588.6" y1="467.5" x2="588.6" y2="562.3" class="d"/>
<polygon class="ar" points="588.6,467.5 589.95,474.5 587.25,474.5"/>
<polygon class="ar" points="588.6,562.3 587.25,555.3 589.95,555.3"/>
<g><text class="m" transform="translate(587.3,538) rotate(-90) scale(0.7,1)" font-size="11.6" x="3.71 9.51 18.57 26 33.43 40.86 48.29 54.08" y="0.6">2.35Min.</text></g>
<line x1="524.8" y1="585.7" x2="630.4" y2="585.7" class="d"/>
<polygon class="ar" points="538.32,585.7 531.82,587.05 531.82,584.35"/>
<polygon class="ar" points="550.32,585.7 556.82,584.35 556.82,587.05"/>
<g><text class="m" transform="translate(570.9,583.5) scale(0.7,1)" font-size="11.6" x="3.86 9.87 19.29 27 34.71" y="0.6">0.30 </text><text class="t" transform="translate(570.9,583.5)" font-size="12.53" x="33.75" y="0.6" text-anchor="middle" style="stroke:#000;stroke-width:.2px">±</text><text class="m" transform="translate(570.9,583.5) scale(0.7,1)" font-size="11.6" x="57.86 63.87 73.29 81" y="0.6">0.03</text></g>
<line x1="464.04" y1="599.7" x2="630.4" y2="599.7" class="d"/>
<polygon class="ar" points="464.04,599.7 470.54,598.35 470.54,601.05"/>
<polygon class="ar" points="484.11,599.7 477.61,601.05 477.61,598.35"/>
<g><text class="m" transform="translate(570.9,597.9) scale(0.7,1)" font-size="11.6" x="3.86 9.87 19.29 27 34.71" y="0.6">0.50 </text><text class="t" transform="translate(570.9,597.9)" font-size="12.53" x="33.75" y="0.6" text-anchor="middle" style="stroke:#000;stroke-width:.2px">±</text><text class="m" transform="translate(570.9,597.9) scale(0.7,1)" font-size="11.6" x="57.86 63.87 73.29 81" y="0.6">0.03</text></g>
<line x1="538.32" y1="562.3" x2="538.32" y2="590" class="d"/>
<line x1="550.32" y1="562.3" x2="550.32" y2="590" class="d"/>
<g><text class="m" transform="translate(527.7,627.8) scale(0.7,1)" font-size="11.3" x="3.71 11.14 18.57 26" y="0.6">PLUG</text></g>
<line x1="656.3" y1="467.5" x2="686.9" y2="467.5" class="o"/>
<rect x="658.1" y="467.5" width="9" height="120.1" class="o"/>
<rect x="656.3" y="562.3" width="2.9" height="45.7" class="o" style="fill:#fff"/>
<line x1="658.1" y1="499.9" x2="667.1" y2="499.9" class="n"/>
<line x1="658.1" y1="504.6" x2="667.1" y2="504.6" class="n"/>
<line x1="658.1" y1="512.5" x2="667.1" y2="512.5" class="n"/>
<line x1="658.1" y1="519.7" x2="667.1" y2="519.7" class="n"/>
<line x1="643.7" y1="452" x2="742.8" y2="452" class="d"/>
<polygon class="ar" points="658.1,452 651.6,453.35 651.6,450.65"/>
<polygon class="ar" points="667.1,452 673.6,450.65 673.6,453.35"/>
<line x1="658.1" y1="447.7" x2="658.1" y2="465.7" class="d"/>
<line x1="667.1" y1="447.7" x2="667.1" y2="465.7" class="d"/>
<g><text class="m" transform="translate(678.6,449.6) scale(0.7,1)" font-size="11.6" x="3.93 10.06 19.64 27.5 35.36" y="0.6">0.20 </text><text class="t" transform="translate(678.6,449.6)" font-size="12.53" x="34.38" y="0.6" text-anchor="middle" style="stroke:#000;stroke-width:.2px">±</text><text class="m" transform="translate(678.6,449.6) scale(0.7,1)" font-size="11.6" x="58.93 65.06 74.64 82.5" y="0.6">0.03</text></g>
<line x1="668.9" y1="588.2" x2="686.9" y2="588.2" class="d"/>
<line x1="683.3" y1="467.5" x2="683.3" y2="588.2" class="d"/>
<polygon class="ar" points="683.3,467.5 684.65,474.5 681.95,474.5"/>
<polygon class="ar" points="683.3,588.2 681.95,581.2 684.65,581.2"/>
<g><text class="m" transform="translate(681.5,551.5) rotate(-90) scale(0.7,1)" font-size="11.6" x="3.68 9.42 18.39 25.75 33.11 40.46 47.82 55.18 60.92" y="0.6">3.00 Min.</text></g>
</g>
<g id="pcb">
<clipPath id="pp">
<rect x="869.4" y="400.4" width="13.8" height="47.9"/>
<rect x="889.42" y="400.4" width="13.8" height="47.9"/>
<rect x="909.44" y="400.4" width="13.8" height="47.9"/>
<rect x="929.46" y="400.4" width="13.8" height="47.9"/>
<rect x="949.48" y="400.4" width="13.8" height="47.9"/>
<rect x="969.5" y="400.4" width="13.8" height="47.9"/>
<rect x="818.7" y="507.5" width="20.7" height="55.7"/>
<rect x="1013.5" y="507.5" width="20.3" height="55.7"/>
</clipPath>
<g clip-path="url(#pp)" class="d">
<line x1="646.53" y1="580" x2="800" y2="380"/>
<line x1="655.13" y1="580" x2="808.6" y2="380"/>
<line x1="663.73" y1="580" x2="817.2" y2="380"/>
<line x1="672.33" y1="580" x2="825.8" y2="380"/>
<line x1="680.93" y1="580" x2="834.4" y2="380"/>
<line x1="689.53" y1="580" x2="843" y2="380"/>
<line x1="698.13" y1="580" x2="851.6" y2="380"/>
<line x1="706.73" y1="580" x2="860.2" y2="380"/>
<line x1="715.33" y1="580" x2="868.8" y2="380"/>
<line x1="723.93" y1="580" x2="877.4" y2="380"/>
<line x1="732.53" y1="580" x2="886" y2="380"/>
<line x1="741.13" y1="580" x2="894.6" y2="380"/>
<line x1="749.73" y1="580" x2="903.2" y2="380"/>
<line x1="758.33" y1="580" x2="911.8" y2="380"/>
<line x1="766.93" y1="580" x2="920.4" y2="380"/>
<line x1="775.53" y1="580" x2="929" y2="380"/>
<line x1="784.13" y1="580" x2="937.6" y2="380"/>
<line x1="792.73" y1="580" x2="946.2" y2="380"/>
<line x1="801.33" y1="580" x2="954.8" y2="380"/>
<line x1="809.93" y1="580" x2="963.4" y2="380"/>
<line x1="818.53" y1="580" x2="972" y2="380"/>
<line x1="827.13" y1="580" x2="980.6" y2="380"/>
<line x1="835.73" y1="580" x2="989.2" y2="380"/>
<line x1="844.33" y1="580" x2="997.8" y2="380"/>
<line x1="852.93" y1="580" x2="1006.4" y2="380"/>
<line x1="861.53" y1="580" x2="1015" y2="380"/>
<line x1="870.13" y1="580" x2="1023.6" y2="380"/>
<line x1="878.73" y1="580" x2="1032.2" y2="380"/>
<line x1="887.33" y1="580" x2="1040.8" y2="380"/>
<line x1="895.93" y1="580" x2="1049.4" y2="380"/>
<line x1="904.53" y1="580" x2="1058" y2="380"/>
<line x1="913.13" y1="580" x2="1066.6" y2="380"/>
<line x1="921.73" y1="580" x2="1075.2" y2="380"/>
<line x1="930.33" y1="580" x2="1083.8" y2="380"/>
<line x1="938.93" y1="580" x2="1092.4" y2="380"/>
<line x1="947.53" y1="580" x2="1101" y2="380"/>
<line x1="956.13" y1="580" x2="1109.6" y2="380"/>
<line x1="964.73" y1="580" x2="1118.2" y2="380"/>
<line x1="973.33" y1="580" x2="1126.8" y2="380"/>
<line x1="981.93" y1="580" x2="1135.4" y2="380"/>
<line x1="990.53" y1="580" x2="1144" y2="380"/>
<line x1="999.13" y1="580" x2="1152.6" y2="380"/>
<line x1="1007.73" y1="580" x2="1161.2" y2="380"/>
<line x1="1016.33" y1="580" x2="1169.8" y2="380"/>
<line x1="1024.93" y1="580" x2="1178.4" y2="380"/>
<line x1="1033.53" y1="580" x2="1187" y2="380"/>
</g>
<rect x="869.4" y="400.4" width="13.8" height="47.9" class="o"/>
<rect x="889.42" y="400.4" width="13.8" height="47.9" class="o"/>
<rect x="909.44" y="400.4" width="13.8" height="47.9" class="o"/>
<rect x="929.46" y="400.4" width="13.8" height="47.9" class="o"/>
<rect x="949.48" y="400.4" width="13.8" height="47.9" class="o"/>
<rect x="969.5" y="400.4" width="13.8" height="47.9" class="o"/>
<rect x="818.7" y="507.5" width="20.7" height="55.7" class="o"/>
<rect x="1013.5" y="507.5" width="20.3" height="55.7" class="o"/>
<line x1="926.2" y1="394.5" x2="926.2" y2="572" class="c" style="stroke-dasharray:82 6 4 6"/>
<text class="t" x="917.3" y="566.8" font-size="11" textLength="5" lengthAdjust="spacingAndGlyphs">C</text>
<text class="t" x="919.2" y="569.8" font-size="11" textLength="5" lengthAdjust="spacingAndGlyphs">L</text>
<line x1="876.3" y1="361.4" x2="876.3" y2="455" class="c" style="stroke-dasharray:31 5 4 5"/>
<line x1="896.32" y1="374" x2="896.32" y2="455" class="c" style="stroke-dasharray:31 5 4 5"/>
<line x1="916.34" y1="384" x2="916.34" y2="455" class="c" style="stroke-dasharray:31 5 4 5"/>
<line x1="976.4" y1="361.4" x2="976.4" y2="455" class="c" style="stroke-dasharray:31 5 4 5"/>
<line x1="828.4" y1="501.7" x2="828.4" y2="593.2" class="c" style="stroke-dasharray:33 4 4 4 20 5 40"/>
<line x1="1023.6" y1="501.7" x2="1023.6" y2="593.2" class="c" style="stroke-dasharray:33 4 4 4 20 5 40"/>
<line x1="876.3" y1="364.2" x2="976.4" y2="364.2" class="d"/>
<polygon class="ar" points="876.3,364.2 883.3,362.85 883.3,365.55"/>
<polygon class="ar" points="976.4,364.2 969.4,365.55 969.4,362.85"/>
<g><text class="m" transform="translate(919.2,362.2) scale(0.7,1)" font-size="11.6" x="3.82 9.78 19.11 26.75" y="0.6">2.50</text></g>
<line x1="876.3" y1="377" x2="932.9" y2="377" class="d"/>
<polygon class="ar" points="876.3,377 882.8,375.65 882.8,378.35"/>
<polygon class="ar" points="896.32,377 889.82,378.35 889.82,375.65"/>
<g><text class="m" transform="translate(908.3,375) scale(0.7,1)" font-size="11.6" x="3.93 10.06 19.64 27.5" y="0.6">0.50</text></g>
<line x1="903.2" y1="387.5" x2="962" y2="387.5" class="d"/>
<polygon class="ar" points="916.34,387.5 909.84,388.85 909.84,386.15"/>
<polygon class="ar" points="926.2,387.5 932.7,386.15 932.7,388.85"/>
<g><text class="m" transform="translate(936.4,385.6) scale(0.7,1)" font-size="11.6" x="3.89 9.97 19.46 27.25" y="0.6">0.25</text></g>
<line x1="841.7" y1="357.5" x2="841.7" y2="400.4" class="d"/>
<line x1="841.7" y1="400.4" x2="841.7" y2="448.3" class="d"/>
<polygon class="ar" points="841.7,400.4 843.05,407.4 840.35,407.4"/>
<polygon class="ar" points="841.7,448.3 840.35,441.3 843.05,441.3"/>
<line x1="783.6" y1="400.4" x2="865.5" y2="400.4" class="d"/>
<line x1="839.4" y1="448.3" x2="865.5" y2="448.3" class="d"/>
<g><text class="m" transform="translate(840.4,394.5) rotate(-90) scale(0.7,1)" font-size="11.6" x="3.79 11.36 18.93 24.83 34.07 41.64" y="0.6">6*1.20</text></g>
<line x1="786.4" y1="400.4" x2="786.4" y2="563.2" class="d"/>
<polygon class="ar" points="786.4,400.4 787.75,407.4 785.05,407.4"/>
<polygon class="ar" points="786.4,563.2 785.05,556.2 787.75,556.2"/>
<line x1="783.6" y1="563.2" x2="816.8" y2="563.2" class="d"/>
<g><text class="m" transform="translate(785.3,492.7) rotate(-90) scale(0.7,1)" font-size="11.6" x="3.82 9.78 19.11 26.75" y="0.6">4.07</text></g>
<line x1="828.4" y1="466.6" x2="896.6" y2="466.6" class="d"/>
<polygon class="ar" points="869.4,466.6 862.9,467.95 862.9,465.25"/>
<polygon class="ar" points="883.2,466.6 889.7,465.25 889.7,467.95"/>
<line x1="869.4" y1="448.3" x2="869.4" y2="469.4" class="d"/>
<line x1="883.2" y1="448.3" x2="883.2" y2="469.4" class="d"/>
<g><text class="m" transform="translate(832.3,464.7) scale(0.7,1)" font-size="11.6" x="3.71 11.14 18.57 24.37 33.43 40.86" y="0.6">6*0.35</text></g>
<line x1="818.7" y1="488" x2="818.7" y2="507.5" class="d"/>
<line x1="839.4" y1="488" x2="839.4" y2="507.5" class="d"/>
<line x1="818.7" y1="491.2" x2="877.9" y2="491.2" class="d"/>
<polygon class="ar" points="818.7,491.2 825.2,489.85 825.2,492.55"/>
<polygon class="ar" points="839.4,491.2 832.9,492.55 832.9,489.85"/>
<g><text class="m" transform="translate(840.8,489.2) scale(0.7,1)" font-size="11.6" x="3.86 11.57 19.29 25.3 34.71 42.43" y="0.6">2*0.50</text></g>
<line x1="804.3" y1="465.5" x2="804.3" y2="507.5" class="d"/>
<line x1="804.3" y1="507.5" x2="804.3" y2="563.2" class="d"/>
<polygon class="ar" points="804.3,507.5 805.65,514.5 802.95,514.5"/>
<polygon class="ar" points="804.3,563.2 802.95,556.2 805.65,556.2"/>
<line x1="801.2" y1="507.5" x2="818.7" y2="507.5" class="d"/>
<g><text class="m" transform="translate(802.8,501.7) rotate(-90) scale(0.7,1)" font-size="11.6" x="3.79 11.36 18.93 24.83 34.07 41.64" y="0.6">2*1.40</text></g>
<line x1="828.4" y1="590.1" x2="1023.6" y2="590.1" class="d"/>
<polygon class="ar" points="828.4,590.1 835.4,588.75 835.4,591.45"/>
<polygon class="ar" points="1023.6,590.1 1016.6,591.45 1016.6,588.75"/>
<g><text class="m" transform="translate(917.3,588.2) scale(0.7,1)" font-size="11.6" x="3.82 9.78 19.11 26.75" y="0.6">4.86</text></g>
<g><text class="m" transform="translate(890,610) scale(0.7,1)" font-size="11.6" x="3.89 9.97 19.46 25.54 35.04 42.82 50.61 58.39 66.18 73.96 81.75 89.54 97.32" y="0.6">P.C.B  LAYOUT</text></g>
<line x1="884.2" y1="612.8" x2="964" y2="612.8" class="d"/>
<line x1="884.2" y1="616.6" x2="964" y2="616.6" class="d"/>
<g><text class="m" transform="translate(884.2,627.2) scale(0.7,1)" font-size="11.6" x="3.69 11.06 18.43 25.8 33.17 40.54 47.91 55.29 62.66 70.03" y="0.6">TOLERANCE:</text><text class="t" transform="translate(884.2,627.2)" font-size="12.53" x="58.05" y="0.6" text-anchor="middle" style="stroke:#000;stroke-width:.2px">±</text><text class="m" transform="translate(884.2,627.2) scale(0.7,1)" font-size="11.6" x="92.14 97.89 106.89 114.26" y="0.6">0.05</text></g>
</g>
<g id="iso">
<polyline points="797.7,110.7 859.31,75.26 1012.46,163.51" class="o"/>
<path d="M797.7,110.7 Q793.95,112.57 793.95,115.7" class="o"/>
<polyline points="793.95,115.7 808.35,121.34 812.11,119.46 854.43,95.04" class="o"/>
<polyline points="795.2,113.2 809.85,118.84 852.18,94.42" class="n"/>
<polyline points="808.35,121.34 809.85,118.84" class="n"/>
<polyline points="817.11,120.09 852.8,99.43" class="n"/>
<polyline points="812.11,119.46 817.11,120.09" class="n"/>
<polyline points="793.95,115.7 804.59,125.1 804.59,132.61 807.1,135.74 810.85,134.49 817.11,130.11 817.11,120.09" class="o"/>
<polyline points="808.35,121.34 806.09,125.1 806.09,135.11" class="n"/>
<polyline points="804.59,125.1 806.09,125.1" class="n"/>
<polyline points="802.71,125.97 794.57,129.48 804.59,134.49" class="o"/>
<polyline points="793.95,115.7 790.82,117.33 763.02,133.86" class="o"/>
<path d="M763.02,133.86 Q761.02,135.11 761.39,136.99 V141.37 L764.15,142.88" class="o"/>
<polyline points="762.27,135.11 764.15,138.24 764.15,142.88" class="n"/>
<polyline points="763.02,134.11 812.11,163.76" class="o"/>
<polyline points="812.11,165.01 812.11,171.27 816.49,172.77 820.87,170.64 820.87,165.63 816.49,164.13 812.11,165.01" class="o"/>
<polyline points="816.49,164.76 816.49,172.52" class="n"/>
<polyline points="814.23,165.01 814.23,172.02" class="n"/>
<polyline points="820.87,165.63 856.56,186.3 856.56,194.06 859.06,196.31 859.06,191.3 909.78,219.85" class="o"/>
<polyline points="857.81,186.92 857.81,195.31" class="n"/>
<polyline points="764.15,142.88 812.11,168.51" class="o"/>
<polyline points="820.87,173.52 856.56,194.06" class="o"/>
<polyline points="859.06,196.31 907.28,224.49" class="o"/>
<polyline points="767.65,144.76 767.65,156.4 792.7,171.9 798.33,166.89" class="o"/>
<polyline points="798.33,166.89 801.46,167.76" class="n"/>
<polyline points="801.46,167.76 886.99,217.6 890.99,226.37 917.3,243.27" class="o"/>
<polyline points="882.23,215.1 885.73,213.59" class="n"/>
<path d="M808.6,173.52 L797.33,180.04 Q793.32,181.91 793.32,185.04 V189.43 L797.96,191.56 L798.58,185.92 L801.46,182.54" class="o"/>
<polyline points="797.96,191.56 818.99,179.41" class="o"/>
<polyline points="801.46,182.54 813.36,175.65" class="o"/>
<path d="M793.32,185.04 Q795.2,183.17 801.46,182.54" class="n"/>
<polyline points="793.57,186.92 798.33,188.8" class="n"/>
<polyline points="795.58,183.79 796.08,190.43" class="n"/>
<path d="M823,181.74 L811.73,188.25 Q807.72,190.13 807.72,193.26 V197.64 L812.36,199.77 L812.98,194.13 L815.86,190.75" class="o"/>
<polyline points="812.36,199.77 833.39,187.62" class="o"/>
<polyline points="815.86,190.75 827.76,183.87" class="o"/>
<path d="M807.72,193.26 Q809.6,191.38 815.86,190.75" class="n"/>
<polyline points="807.97,195.14 812.73,197.01" class="n"/>
<polyline points="809.98,192.01 810.48,198.64" class="n"/>
<path d="M837.4,189.95 L826.13,196.46 Q822.12,198.34 822.12,201.47 V205.86 L826.76,207.98 L827.38,202.35 L830.26,198.97" class="o"/>
<polyline points="826.76,207.98 847.79,195.84" class="o"/>
<polyline points="830.26,198.97 842.16,192.08" class="o"/>
<path d="M822.12,201.47 Q824,199.59 830.26,198.97" class="n"/>
<polyline points="822.37,203.35 827.13,205.23" class="n"/>
<polyline points="824.38,200.22 824.88,206.86" class="n"/>
<path d="M851.8,198.17 L840.53,204.68 Q836.52,206.56 836.52,209.69 V214.07 L841.16,216.2 L841.78,210.56 L844.66,207.18" class="o"/>
<polyline points="841.16,216.2 862.19,204.05" class="o"/>
<polyline points="844.66,207.18 856.56,200.3" class="o"/>
<path d="M836.52,209.69 Q838.4,207.81 844.66,207.18" class="n"/>
<polyline points="836.77,211.57 841.53,213.44" class="n"/>
<polyline points="838.78,208.43 839.28,215.07" class="n"/>
<path d="M866.2,206.38 L854.93,212.89 Q850.92,214.77 850.92,217.9 V222.28 L855.56,224.41 L856.18,218.78 L859.06,215.4" class="o"/>
<polyline points="855.56,224.41 876.59,212.27" class="o"/>
<polyline points="859.06,215.4 870.96,208.51" class="o"/>
<path d="M850.92,217.9 Q852.8,216.02 859.06,215.4" class="n"/>
<polyline points="851.17,219.78 855.93,221.66" class="n"/>
<polyline points="853.18,216.65 853.68,223.29" class="n"/>
<path d="M880.6,214.6 L869.33,221.11 Q865.32,222.99 865.32,226.12 V230.5 L869.96,232.63 L870.58,226.99 L873.46,223.61" class="o"/>
<polyline points="869.96,232.63 890.99,220.48" class="o"/>
<polyline points="873.46,223.61 885.36,216.72" class="o"/>
<path d="M865.32,226.12 Q867.2,224.24 873.46,223.61" class="n"/>
<polyline points="865.57,227.99 870.33,229.87" class="n"/>
<polyline points="867.58,224.86 868.08,231.5" class="n"/>
<polyline points="1012.46,163.51 949.23,200.07" class="o"/>
<path d="M949.23,200.07 Q945.47,202.57 944.84,207.33" class="o"/>
<polyline points="944.84,207.33 944.84,232.25 939.21,230.12 939.21,203.2" class="o"/>
<polyline points="940.71,209.46 940.71,230.75" class="n"/>
<polyline points="940.71,209.46 944.84,210.09" class="n"/>
<polyline points="1012.46,163.51 1011.84,170.02 1008.08,176.28 1005.58,179.41 994.31,185.67 984.29,201.95" class="o"/>
<polyline points="1005.58,179.41 1005.58,185.04 1002.45,193.18 987.42,203.2 984.29,201.95" class="o"/>
<polyline points="984.29,201.95 983.04,204.08 977.4,207.58 977.4,213.22 944.84,232.25" class="o"/>
<polyline points="931.07,195.94 946.1,203.45" class="o"/>
<polyline points="933.57,193.18 948.85,200.32" class="n"/>
<polyline points="932.32,194.56 947.6,201.82" class="n"/>
<polyline points="934.2,190.05 937.33,186.92 971.14,169.39 978.65,165.63 967.38,160" class="o"/>
<polyline points="934.2,191.3 938.58,188.17 971.14,171.27" class="n"/>
<polyline points="933.57,193.18 934.83,190.68" class="n"/>
<polyline points="971.14,169.39 971.14,171.27" class="n"/>
<path d="M913.54,189.68 L933.57,189.05 L934.45,190.3 L931.07,195.94 L928.57,196.56 L918.8,201.57 L909.78,195.69 L907.9,193.81 Q909.78,190.68 913.54,189.68" class="o"/>
<polyline points="917.92,189.68 917.92,196.56 928.57,196.56" class="n"/>
<polyline points="913.54,190.05 913.54,197.57" class="n"/>
<polyline points="917.92,196.56 913.54,197.57" class="n"/>
<path d="M907.28,220.11 Q909.78,218.85 912.91,218.23 L939.21,203.2" class="o"/>
<polyline points="907.28,220.36 907.28,225.11 912.29,227.62 917.3,228.24 917.3,243.27 939.21,230.75" class="o"/>
<polyline points="913.54,219.85 913.54,227.24" class="n"/>
<polyline points="854.43,95.04 978.65,165.63" class="o"/>
<polyline points="854.43,95.04 855.68,96.92 855.68,105.06" class="o"/>
<polyline points="840,102.73 854.32,94.82" class="n"/>
<polyline points="844.09,103.41 855.82,97.27" class="n"/>
<polyline points="848.18,103.41 856.09,99.73" class="n"/>
<polyline points="851.59,104.09 856.09,102.05" class="n"/>
<polyline points="856.09,105.45 859.09,107.09 859.09,110.91 861.55,112.55" class="o"/>
<polyline points="859.09,110.91 861.82,113.36 855,117.18 847.5,112.95 856.09,108.18" class="o"/>
<polyline points="852.95,115.27 859.09,111.86" class="n"/>
<polygon points="863.45,105.45 867.27,103.82 872.73,106.82 872.73,111.59 867.95,112.55 863.45,110.23" class="o"/>
<polyline points="863.45,105.45 867.95,107.77 872.73,106.82" class="n"/>
<polyline points="867.95,107.77 867.95,112.55" class="n"/>
<polyline points="865.36,104.64 865.36,111.18" class="n"/>
<polygon points="856.36,121.14 862.5,125.23 869.32,121.55 863.45,117.73" class="o"/>
<path d="M861.82,124.14 Q860.45,121.27 864,119.91" class="n"/>
<polyline points="863.45,117.73 875.73,110.91" class="o"/>
<polyline points="869.32,121.55 880.91,115.27" class="o"/>
<polyline points="866.73,119.64 878.45,113.09" class="n"/>
<line x1="874.77" y1="110.36" x2="886.64" y2="117.18" style="stroke-width:2"/>
<polyline points="886.64,117.18 886.64,121.55" class="o"/>
<polyline points="880.91,115.27 885,117.73 885,120.73" class="n"/>
<polygon points="880.91,115.27 885.27,117.73 885.27,119.91 882.55,118.27" style="fill:#000;stroke:none"/>
<polyline points="875.73,110.91 875.73,112.27" class="n"/>
<polygon points="870.82,129.45 876.95,133.55 883.77,129.86 877.91,126.05" class="o"/>
<path d="M876.27,132.45 Q874.91,129.59 878.45,128.23" class="n"/>
<polyline points="877.91,126.05 890.18,119.23" class="o"/>
<polyline points="883.77,129.86 895.36,123.59" class="o"/>
<polyline points="881.18,127.95 892.91,121.41" class="n"/>
<line x1="889.23" y1="118.68" x2="901.09" y2="125.5" style="stroke-width:2"/>
<polyline points="901.09,125.5 901.09,129.86" class="o"/>
<polyline points="895.36,123.59 899.45,126.05 899.45,129.05" class="n"/>
<polygon points="895.36,123.59 899.73,126.05 899.73,128.23 897,126.59" style="fill:#000;stroke:none"/>
<polyline points="890.18,119.23 890.18,120.59" class="n"/>
<polygon points="885.27,137.77 891.41,141.86 898.23,138.18 892.36,134.36" class="o"/>
<path d="M890.73,140.77 Q889.36,137.91 892.91,136.55" class="n"/>
<polyline points="892.36,134.36 904.64,127.55" class="o"/>
<polyline points="898.23,138.18 909.82,131.91" class="o"/>
<polyline points="895.64,136.27 907.36,129.73" class="n"/>
<line x1="903.68" y1="127" x2="915.55" y2="133.82" style="stroke-width:2"/>
<polyline points="915.55,133.82 915.55,138.18" class="o"/>
<polyline points="909.82,131.91 913.91,134.36 913.91,137.36" class="n"/>
<polygon points="909.82,131.91 914.18,134.36 914.18,136.55 911.45,134.91" style="fill:#000;stroke:none"/>
<polyline points="904.64,127.55 904.64,128.91" class="n"/>
<polygon points="899.73,146.09 905.86,150.18 912.68,146.5 906.82,142.68" class="o"/>
<path d="M905.18,149.09 Q903.82,146.23 907.36,144.86" class="n"/>
<polyline points="906.82,142.68 919.09,135.86" class="o"/>
<polyline points="912.68,146.5 924.27,140.23" class="o"/>
<polyline points="910.09,144.59 921.82,138.05" class="n"/>
<line x1="918.14" y1="135.32" x2="930" y2="142.14" style="stroke-width:2"/>
<polyline points="930,142.14 930,146.5" class="o"/>
<polyline points="924.27,140.23 928.36,142.68 928.36,145.68" class="n"/>
<polygon points="924.27,140.23 928.64,142.68 928.64,144.86 925.91,143.23" style="fill:#000;stroke:none"/>
<polyline points="919.09,135.86 919.09,137.23" class="n"/>
<polygon points="914.18,154.41 920.32,158.5 927.14,154.82 921.27,151" class="o"/>
<path d="M919.64,157.41 Q918.27,154.55 921.82,153.18" class="n"/>
<polyline points="921.27,151 933.55,144.18" class="o"/>
<polyline points="927.14,154.82 938.73,148.55" class="o"/>
<polyline points="924.55,152.91 936.27,146.36" class="n"/>
<line x1="932.59" y1="143.64" x2="944.46" y2="150.45" style="stroke-width:2"/>
<polyline points="944.46,150.45 944.46,154.82" class="o"/>
<polyline points="938.73,148.55 942.82,151 942.82,154" class="n"/>
<polygon points="938.73,148.55 943.09,151 943.09,153.18 940.36,151.55" style="fill:#000;stroke:none"/>
<polyline points="933.55,144.18 933.55,145.55" class="n"/>
<polygon points="928.64,162.73 934.77,166.82 941.59,163.14 935.73,159.32" class="o"/>
<path d="M934.09,165.73 Q932.73,162.86 936.27,161.5" class="n"/>
<polyline points="935.73,159.32 948,152.5" class="o"/>
<polyline points="941.59,163.14 953.18,156.86" class="o"/>
<polyline points="939,161.23 950.73,154.68" class="n"/>
<line x1="947.05" y1="151.95" x2="958.91" y2="158.77" style="stroke-width:2"/>
<polyline points="958.91,158.77 958.91,163.14" class="o"/>
<polyline points="953.18,156.86 957.27,159.32 957.27,162.32" class="n"/>
<polygon points="953.18,156.86 957.55,159.32 957.55,161.5 954.82,159.86" style="fill:#000;stroke:none"/>
<polyline points="948,152.5 948,153.86" class="n"/>
<polyline points="942.34,166.26 948.6,170.64 958.62,165.63" class="n"/>
<polyline points="942.34,166.26 951.11,161.88" class="n"/>
<polyline points="946.1,168.51 953.61,164.76" class="n"/>
<polyline points="951.11,160 951.11,165.63 956.11,166.89 956.11,161.25" class="o"/>
<polyline points="959.24,160.63 959.24,165.63" class="n"/>
<polyline points="966.13,160 966.13,167.51" class="n"/>
<polyline points="959.24,165.63 971.14,169.39" class="n"/>
<text class="s" transform="matrix(0.866,-0.5,0.866,0.5,815,158.6)" font-size="29.3" textLength="57" lengthAdjust="spacingAndGlyphs" style="fill:#fff;stroke:#000;stroke-width:1.1">HRD</text>
</g>
</g>
</svg>
</body></html>
